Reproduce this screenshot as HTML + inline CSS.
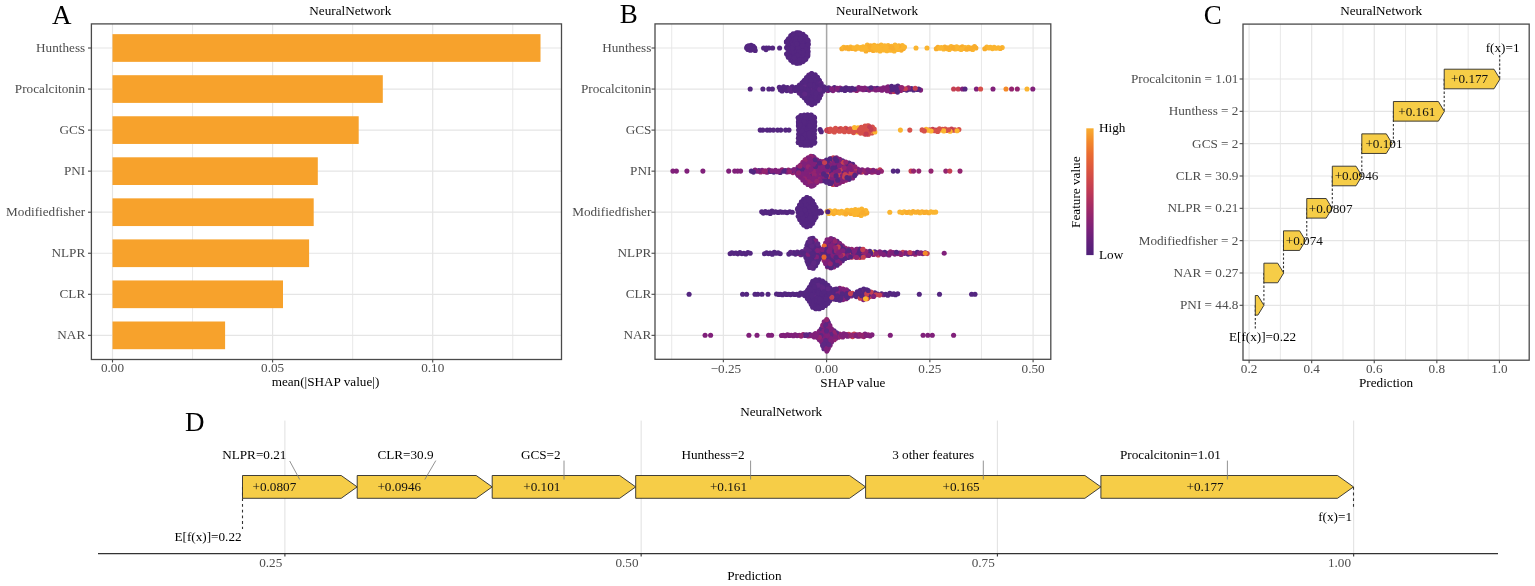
<!DOCTYPE html>
<html><head><meta charset="utf-8"><style>
html,body{margin:0;padding:0;background:#fff;width:1535px;height:586px;overflow:hidden}
svg{display:block}
text{font-family:'Liberation Serif','Times New Roman',serif}
</style></head><body>
<svg width="1535" height="586" viewBox="0 0 1535 586">
<rect width="1535" height="586" fill="#fff"/>
<line x1="192.55" y1="23.90" x2="192.55" y2="359.50" stroke="#E5E5E5" stroke-width="0.9" />
<line x1="352.65" y1="23.90" x2="352.65" y2="359.50" stroke="#E5E5E5" stroke-width="0.9" />
<line x1="512.75" y1="23.90" x2="512.75" y2="359.50" stroke="#E5E5E5" stroke-width="0.9" />
<line x1="112.50" y1="23.90" x2="112.50" y2="359.50" stroke="#E5E5E5" stroke-width="1.2" />
<line x1="272.60" y1="23.90" x2="272.60" y2="359.50" stroke="#E5E5E5" stroke-width="1.2" />
<line x1="432.70" y1="23.90" x2="432.70" y2="359.50" stroke="#E5E5E5" stroke-width="1.2" />
<line x1="91.40" y1="48.00" x2="561.50" y2="48.00" stroke="#E5E5E5" stroke-width="1.2" />
<line x1="91.40" y1="89.05" x2="561.50" y2="89.05" stroke="#E5E5E5" stroke-width="1.2" />
<line x1="91.40" y1="130.10" x2="561.50" y2="130.10" stroke="#E5E5E5" stroke-width="1.2" />
<line x1="91.40" y1="171.15" x2="561.50" y2="171.15" stroke="#E5E5E5" stroke-width="1.2" />
<line x1="91.40" y1="212.20" x2="561.50" y2="212.20" stroke="#E5E5E5" stroke-width="1.2" />
<line x1="91.40" y1="253.25" x2="561.50" y2="253.25" stroke="#E5E5E5" stroke-width="1.2" />
<line x1="91.40" y1="294.30" x2="561.50" y2="294.30" stroke="#E5E5E5" stroke-width="1.2" />
<line x1="91.40" y1="335.35" x2="561.50" y2="335.35" stroke="#E5E5E5" stroke-width="1.2" />
<rect x="112.5" y="34.15" width="428.00" height="27.7" fill="#F7A22C"/>
<rect x="112.5" y="75.20" width="270.30" height="27.7" fill="#F7A22C"/>
<rect x="112.5" y="116.25" width="246.20" height="27.7" fill="#F7A22C"/>
<rect x="112.5" y="157.30" width="205.30" height="27.7" fill="#F7A22C"/>
<rect x="112.5" y="198.35" width="201.20" height="27.7" fill="#F7A22C"/>
<rect x="112.5" y="239.40" width="196.60" height="27.7" fill="#F7A22C"/>
<rect x="112.5" y="280.45" width="170.50" height="27.7" fill="#F7A22C"/>
<rect x="112.5" y="321.50" width="112.60" height="27.7" fill="#F7A22C"/>
<rect x="91.4" y="23.9" width="470.1" height="335.6" fill="none" stroke="#4a4a4a" stroke-width="1.3"/>
<line x1="88.00" y1="48.00" x2="91.40" y2="48.00" stroke="#4a4a4a" stroke-width="1.1" />
<text x="85.20" y="52.00" font-size="13.2" fill="#4D4D4D" text-anchor="end" >Hunthess</text>
<line x1="88.00" y1="89.05" x2="91.40" y2="89.05" stroke="#4a4a4a" stroke-width="1.1" />
<text x="85.20" y="93.05" font-size="13.2" fill="#4D4D4D" text-anchor="end" >Procalcitonin</text>
<line x1="88.00" y1="130.10" x2="91.40" y2="130.10" stroke="#4a4a4a" stroke-width="1.1" />
<text x="85.20" y="134.10" font-size="13.2" fill="#4D4D4D" text-anchor="end" >GCS</text>
<line x1="88.00" y1="171.15" x2="91.40" y2="171.15" stroke="#4a4a4a" stroke-width="1.1" />
<text x="85.20" y="175.15" font-size="13.2" fill="#4D4D4D" text-anchor="end" >PNI</text>
<line x1="88.00" y1="212.20" x2="91.40" y2="212.20" stroke="#4a4a4a" stroke-width="1.1" />
<text x="85.20" y="216.20" font-size="13.2" fill="#4D4D4D" text-anchor="end" >Modifiedfisher</text>
<line x1="88.00" y1="253.25" x2="91.40" y2="253.25" stroke="#4a4a4a" stroke-width="1.1" />
<text x="85.20" y="257.25" font-size="13.2" fill="#4D4D4D" text-anchor="end" >NLPR</text>
<line x1="88.00" y1="294.30" x2="91.40" y2="294.30" stroke="#4a4a4a" stroke-width="1.1" />
<text x="85.20" y="298.30" font-size="13.2" fill="#4D4D4D" text-anchor="end" >CLR</text>
<line x1="88.00" y1="335.35" x2="91.40" y2="335.35" stroke="#4a4a4a" stroke-width="1.1" />
<text x="85.20" y="339.35" font-size="13.2" fill="#4D4D4D" text-anchor="end" >NAR</text>
<line x1="112.50" y1="359.50" x2="112.50" y2="362.50" stroke="#4a4a4a" stroke-width="1.1" />
<text x="112.50" y="372.00" font-size="13.2" fill="#4D4D4D" text-anchor="middle" >0.00</text>
<line x1="272.60" y1="359.50" x2="272.60" y2="362.50" stroke="#4a4a4a" stroke-width="1.1" />
<text x="272.60" y="372.00" font-size="13.2" fill="#4D4D4D" text-anchor="middle" >0.05</text>
<line x1="432.70" y1="359.50" x2="432.70" y2="362.50" stroke="#4a4a4a" stroke-width="1.1" />
<text x="432.70" y="372.00" font-size="13.2" fill="#4D4D4D" text-anchor="middle" >0.10</text>
<text x="325.50" y="386.00" font-size="13.2" fill="#000" text-anchor="middle" >mean(|SHAP value|)</text>
<text x="350.30" y="15.30" font-size="13.2" fill="#000" text-anchor="middle" >NeuralNetwork</text>
<text x="52.00" y="23.50" font-size="27" fill="#000" text-anchor="start" >A</text>
<line x1="671.73" y1="23.90" x2="671.73" y2="359.30" stroke="#E5E5E5" stroke-width="0.9" />
<line x1="774.98" y1="23.90" x2="774.98" y2="359.30" stroke="#E5E5E5" stroke-width="0.9" />
<line x1="878.23" y1="23.90" x2="878.23" y2="359.30" stroke="#E5E5E5" stroke-width="0.9" />
<line x1="981.48" y1="23.90" x2="981.48" y2="359.30" stroke="#E5E5E5" stroke-width="0.9" />
<line x1="723.35" y1="23.90" x2="723.35" y2="359.30" stroke="#E5E5E5" stroke-width="1.2" />
<line x1="826.60" y1="23.90" x2="826.60" y2="359.30" stroke="#E5E5E5" stroke-width="1.2" />
<line x1="929.85" y1="23.90" x2="929.85" y2="359.30" stroke="#E5E5E5" stroke-width="1.2" />
<line x1="1033.10" y1="23.90" x2="1033.10" y2="359.30" stroke="#E5E5E5" stroke-width="1.2" />
<line x1="655.00" y1="48.00" x2="1050.80" y2="48.00" stroke="#E5E5E5" stroke-width="1.2" />
<line x1="655.00" y1="89.05" x2="1050.80" y2="89.05" stroke="#E5E5E5" stroke-width="1.2" />
<line x1="655.00" y1="130.10" x2="1050.80" y2="130.10" stroke="#E5E5E5" stroke-width="1.2" />
<line x1="655.00" y1="171.15" x2="1050.80" y2="171.15" stroke="#E5E5E5" stroke-width="1.2" />
<line x1="655.00" y1="212.20" x2="1050.80" y2="212.20" stroke="#E5E5E5" stroke-width="1.2" />
<line x1="655.00" y1="253.25" x2="1050.80" y2="253.25" stroke="#E5E5E5" stroke-width="1.2" />
<line x1="655.00" y1="294.30" x2="1050.80" y2="294.30" stroke="#E5E5E5" stroke-width="1.2" />
<line x1="655.00" y1="335.35" x2="1050.80" y2="335.35" stroke="#E5E5E5" stroke-width="1.2" />
<line x1="826.60" y1="23.90" x2="826.60" y2="359.30" stroke="#A8A8A8" stroke-width="1.5" />
<circle cx="935.9" cy="130.0" r="2.55" fill="#c53f52"/>
<circle cx="819.4" cy="254.8" r="2.55" fill="#542680"/>
<circle cx="798.4" cy="142.4" r="2.55" fill="#542680"/>
<circle cx="882.0" cy="48.3" r="2.55" fill="#fbb530"/>
<circle cx="829.9" cy="288.1" r="2.55" fill="#542680"/>
<circle cx="911.2" cy="253.7" r="2.55" fill="#80207a"/>
<circle cx="832.5" cy="249.8" r="2.55" fill="#542680"/>
<circle cx="790.7" cy="60.1" r="2.55" fill="#542680"/>
<circle cx="891.9" cy="294.3" r="2.55" fill="#542680"/>
<circle cx="755.1" cy="170.1" r="2.55" fill="#80207a"/>
<circle cx="838.5" cy="258.1" r="2.55" fill="#542680"/>
<circle cx="824.1" cy="169.1" r="2.55" fill="#542680"/>
<circle cx="806.8" cy="140.1" r="2.55" fill="#542680"/>
<circle cx="864.9" cy="134.1" r="2.55" fill="#d6514b"/>
<circle cx="822.8" cy="294.9" r="2.55" fill="#542680"/>
<circle cx="848.7" cy="334.2" r="2.55" fill="#c53f52"/>
<circle cx="825.2" cy="290.6" r="2.55" fill="#542680"/>
<circle cx="799.7" cy="35.0" r="2.55" fill="#542680"/>
<circle cx="896.0" cy="48.0" r="2.55" fill="#f9ad2c"/>
<circle cx="820.4" cy="340.2" r="2.55" fill="#5e2783"/>
<circle cx="825.1" cy="251.4" r="2.55" fill="#c53f52"/>
<circle cx="862.9" cy="129.0" r="2.55" fill="#c53f52"/>
<circle cx="827.0" cy="327.1" r="2.55" fill="#5e2783"/>
<circle cx="838.6" cy="90.0" r="2.55" fill="#542680"/>
<circle cx="821.7" cy="332.1" r="2.55" fill="#80207a"/>
<circle cx="810.1" cy="299.5" r="2.55" fill="#542680"/>
<circle cx="822.1" cy="339.8" r="2.55" fill="#5e2783"/>
<circle cx="833.8" cy="244.8" r="2.55" fill="#542680"/>
<circle cx="752.3" cy="46.9" r="2.55" fill="#542680"/>
<circle cx="861.7" cy="209.1" r="2.55" fill="#fbb530"/>
<circle cx="778.1" cy="212.4" r="2.55" fill="#542680"/>
<circle cx="833.3" cy="173.1" r="2.55" fill="#c53f52"/>
<circle cx="932.7" cy="129.3" r="2.55" fill="#c53f52"/>
<circle cx="857.3" cy="291.7" r="2.55" fill="#542680"/>
<circle cx="799.8" cy="118.2" r="2.55" fill="#542680"/>
<circle cx="825.0" cy="322.0" r="2.55" fill="#80207a"/>
<circle cx="871.9" cy="133.0" r="2.55" fill="#d6514b"/>
<circle cx="803.4" cy="44.0" r="2.55" fill="#542680"/>
<circle cx="851.7" cy="249.2" r="2.55" fill="#93246f"/>
<circle cx="834.7" cy="183.5" r="2.55" fill="#c53f52"/>
<circle cx="811.7" cy="134.0" r="2.55" fill="#542680"/>
<circle cx="899.7" cy="48.8" r="2.55" fill="#fbb530"/>
<circle cx="804.1" cy="129.2" r="2.55" fill="#542680"/>
<circle cx="814.8" cy="142.2" r="2.55" fill="#542680"/>
<circle cx="861.8" cy="130.9" r="2.55" fill="#d6514b"/>
<circle cx="809.6" cy="141.0" r="2.55" fill="#542680"/>
<circle cx="882.0" cy="252.7" r="2.55" fill="#80207a"/>
<circle cx="836.0" cy="244.7" r="2.55" fill="#80207a"/>
<circle cx="825.6" cy="164.9" r="2.55" fill="#80207a"/>
<circle cx="814.3" cy="336.9" r="2.55" fill="#80207a"/>
<circle cx="819.3" cy="308.7" r="2.55" fill="#542680"/>
<circle cx="845.6" cy="128.3" r="2.55" fill="#d6514b"/>
<circle cx="839.9" cy="177.6" r="2.55" fill="#542680"/>
<circle cx="881.9" cy="90.3" r="2.55" fill="#80207a"/>
<circle cx="803.7" cy="213.4" r="2.55" fill="#542680"/>
<circle cx="825.6" cy="288.0" r="2.55" fill="#542680"/>
<circle cx="830.6" cy="267.7" r="2.55" fill="#80207a"/>
<circle cx="810.9" cy="137.9" r="2.55" fill="#542680"/>
<circle cx="822.7" cy="281.8" r="2.55" fill="#542680"/>
<circle cx="804.6" cy="252.5" r="2.55" fill="#542680"/>
<circle cx="807.6" cy="56.3" r="2.55" fill="#542680"/>
<circle cx="866.7" cy="254.5" r="2.55" fill="#542680"/>
<circle cx="807.9" cy="43.6" r="2.55" fill="#542680"/>
<circle cx="867.9" cy="130.2" r="2.55" fill="#d6514b"/>
<circle cx="857.6" cy="169.0" r="2.55" fill="#80207a"/>
<circle cx="808.0" cy="87.8" r="2.55" fill="#542680"/>
<circle cx="799.6" cy="85.6" r="2.55" fill="#542680"/>
<circle cx="790.7" cy="35.9" r="2.55" fill="#542680"/>
<circle cx="801.9" cy="123.6" r="2.55" fill="#542680"/>
<circle cx="831.5" cy="342.0" r="2.55" fill="#5e2783"/>
<circle cx="830.0" cy="180.1" r="2.55" fill="#542680"/>
<circle cx="942.3" cy="129.4" r="2.55" fill="#d6514b"/>
<circle cx="825.5" cy="301.8" r="2.55" fill="#542680"/>
<circle cx="841.4" cy="290.8" r="2.55" fill="#542680"/>
<circle cx="828.2" cy="175.3" r="2.55" fill="#542680"/>
<circle cx="855.5" cy="49.1" r="2.55" fill="#f9ad2c"/>
<circle cx="833.0" cy="241.0" r="2.55" fill="#93246f"/>
<circle cx="849.5" cy="211.1" r="2.55" fill="#f9ad2c"/>
<circle cx="958.9" cy="129.6" r="2.55" fill="#d6514b"/>
<circle cx="833.6" cy="166.4" r="2.55" fill="#80207a"/>
<circle cx="820.5" cy="253.1" r="2.55" fill="#80207a"/>
<circle cx="866.0" cy="296.3" r="2.55" fill="#542680"/>
<circle cx="805.3" cy="54.4" r="2.55" fill="#542680"/>
<circle cx="903.5" cy="89.5" r="2.55" fill="#542680"/>
<circle cx="798.4" cy="121.9" r="2.55" fill="#542680"/>
<circle cx="820.9" cy="94.8" r="2.55" fill="#5e2783"/>
<circle cx="827.1" cy="285.7" r="2.55" fill="#542680"/>
<circle cx="806.1" cy="132.5" r="2.55" fill="#542680"/>
<circle cx="872.5" cy="293.9" r="2.55" fill="#542680"/>
<circle cx="834.2" cy="176.6" r="2.55" fill="#80207a"/>
<circle cx="800.7" cy="165.0" r="2.55" fill="#80207a"/>
<circle cx="790.5" cy="44.3" r="2.55" fill="#542680"/>
<circle cx="892.4" cy="49.4" r="2.55" fill="#fbb530"/>
<circle cx="848.7" cy="212.3" r="2.55" fill="#fbb530"/>
<circle cx="806.9" cy="84.8" r="2.55" fill="#5e2783"/>
<circle cx="821.0" cy="297.1" r="2.55" fill="#542680"/>
<circle cx="833.8" cy="239.6" r="2.55" fill="#80207a"/>
<circle cx="802.2" cy="251.5" r="2.55" fill="#5e2783"/>
<circle cx="832.3" cy="161.7" r="2.55" fill="#80207a"/>
<circle cx="811.7" cy="174.7" r="2.55" fill="#80207a"/>
<circle cx="837.3" cy="167.4" r="2.55" fill="#80207a"/>
<circle cx="780.2" cy="172.5" r="2.55" fill="#542680"/>
<circle cx="808.2" cy="216.1" r="2.55" fill="#542680"/>
<circle cx="809.8" cy="122.1" r="2.55" fill="#542680"/>
<circle cx="814.2" cy="184.8" r="2.55" fill="#80207a"/>
<circle cx="824.5" cy="334.0" r="2.55" fill="#5e2783"/>
<circle cx="782.5" cy="294.7" r="2.55" fill="#542680"/>
<circle cx="813.0" cy="249.7" r="2.55" fill="#542680"/>
<circle cx="870.4" cy="131.2" r="2.55" fill="#fbb530"/>
<circle cx="767.0" cy="172.3" r="2.55" fill="#80207a"/>
<circle cx="803.0" cy="34.4" r="2.55" fill="#542680"/>
<circle cx="860.6" cy="336.0" r="2.55" fill="#93246f"/>
<circle cx="774.3" cy="252.3" r="2.55" fill="#542680"/>
<circle cx="798.5" cy="123.9" r="2.55" fill="#542680"/>
<circle cx="811.3" cy="88.6" r="2.55" fill="#542680"/>
<circle cx="852.6" cy="336.6" r="2.55" fill="#c53f52"/>
<circle cx="846.8" cy="253.7" r="2.55" fill="#93246f"/>
<circle cx="853.5" cy="256.2" r="2.55" fill="#80207a"/>
<circle cx="886.2" cy="254.1" r="2.55" fill="#542680"/>
<circle cx="819.2" cy="339.4" r="2.55" fill="#80207a"/>
<circle cx="816.0" cy="217.1" r="2.55" fill="#542680"/>
<circle cx="815.2" cy="76.2" r="2.55" fill="#542680"/>
<circle cx="827.5" cy="349.5" r="2.55" fill="#80207a"/>
<circle cx="811.8" cy="203.8" r="2.55" fill="#542680"/>
<circle cx="862.5" cy="298.2" r="2.55" fill="#e8642e"/>
<circle cx="881.2" cy="45.1" r="2.55" fill="#fbb530"/>
<circle cx="802.8" cy="142.2" r="2.55" fill="#542680"/>
<circle cx="826.4" cy="323.1" r="2.55" fill="#5e2783"/>
<circle cx="856.6" cy="90.5" r="2.55" fill="#93246f"/>
<circle cx="799.7" cy="140.2" r="2.55" fill="#542680"/>
<circle cx="838.8" cy="159.6" r="2.55" fill="#80207a"/>
<circle cx="800.3" cy="57.6" r="2.55" fill="#542680"/>
<circle cx="803.4" cy="223.7" r="2.55" fill="#542680"/>
<circle cx="788.4" cy="170.0" r="2.55" fill="#93246f"/>
<circle cx="940.7" cy="130.1" r="2.55" fill="#fbb530"/>
<circle cx="755.2" cy="50.4" r="2.55" fill="#542680"/>
<circle cx="836.8" cy="130.2" r="2.55" fill="#d6514b"/>
<circle cx="832.4" cy="242.5" r="2.55" fill="#80207a"/>
<circle cx="827.8" cy="290.8" r="2.55" fill="#542680"/>
<circle cx="975.9" cy="48.0" r="2.55" fill="#f9ad2c"/>
<circle cx="791.8" cy="35.2" r="2.55" fill="#542680"/>
<circle cx="807.6" cy="114.9" r="2.55" fill="#542680"/>
<circle cx="752.5" cy="49.8" r="2.55" fill="#542680"/>
<circle cx="841.0" cy="162.0" r="2.55" fill="#80207a"/>
<circle cx="798.3" cy="142.4" r="2.55" fill="#542680"/>
<circle cx="811.0" cy="96.1" r="2.55" fill="#542680"/>
<circle cx="810.8" cy="200.1" r="2.55" fill="#542680"/>
<circle cx="822.5" cy="306.9" r="2.55" fill="#542680"/>
<circle cx="877.0" cy="252.9" r="2.55" fill="#80207a"/>
<circle cx="859.5" cy="255.4" r="2.55" fill="#542680"/>
<circle cx="806.2" cy="97.9" r="2.55" fill="#542680"/>
<circle cx="831.2" cy="212.8" r="2.55" fill="#fbb530"/>
<circle cx="855.8" cy="253.2" r="2.55" fill="#80207a"/>
<circle cx="776.5" cy="294.0" r="2.55" fill="#542680"/>
<circle cx="802.4" cy="205.3" r="2.55" fill="#542680"/>
<circle cx="823.6" cy="298.1" r="2.55" fill="#542680"/>
<circle cx="811.7" cy="238.6" r="2.55" fill="#542680"/>
<circle cx="841.6" cy="259.7" r="2.55" fill="#c53f52"/>
<circle cx="802.8" cy="162.4" r="2.55" fill="#93246f"/>
<circle cx="789.2" cy="46.0" r="2.55" fill="#542680"/>
<circle cx="803.6" cy="57.3" r="2.55" fill="#542680"/>
<circle cx="801.0" cy="254.8" r="2.55" fill="#5e2783"/>
<circle cx="821.0" cy="290.2" r="2.55" fill="#542680"/>
<circle cx="889.7" cy="88.5" r="2.55" fill="#93246f"/>
<circle cx="871.7" cy="295.4" r="2.55" fill="#542680"/>
<circle cx="816.1" cy="245.3" r="2.55" fill="#542680"/>
<circle cx="805.9" cy="159.7" r="2.55" fill="#80207a"/>
<circle cx="787.5" cy="87.5" r="2.55" fill="#542680"/>
<circle cx="849.7" cy="294.9" r="2.55" fill="#542680"/>
<circle cx="811.3" cy="115.1" r="2.55" fill="#542680"/>
<circle cx="897.8" cy="86.0" r="2.55" fill="#542680"/>
<circle cx="794.6" cy="46.6" r="2.55" fill="#542680"/>
<circle cx="813.3" cy="292.2" r="2.55" fill="#542680"/>
<circle cx="808.1" cy="157.9" r="2.55" fill="#80207a"/>
<circle cx="832.4" cy="257.0" r="2.55" fill="#542680"/>
<circle cx="900.8" cy="90.4" r="2.55" fill="#93246f"/>
<circle cx="958.2" cy="48.6" r="2.55" fill="#fbb530"/>
<circle cx="786.7" cy="294.4" r="2.55" fill="#542680"/>
<circle cx="812.0" cy="89.3" r="2.55" fill="#5e2783"/>
<circle cx="810.2" cy="129.6" r="2.55" fill="#542680"/>
<circle cx="850.2" cy="175.0" r="2.55" fill="#93246f"/>
<circle cx="959.7" cy="47.7" r="2.55" fill="#f9ad2c"/>
<circle cx="793.9" cy="252.6" r="2.55" fill="#542680"/>
<circle cx="807.3" cy="143.9" r="2.55" fill="#542680"/>
<circle cx="840.1" cy="88.0" r="2.55" fill="#80207a"/>
<circle cx="829.6" cy="242.4" r="2.55" fill="#80207a"/>
<circle cx="809.4" cy="86.8" r="2.55" fill="#542680"/>
<circle cx="887.4" cy="253.2" r="2.55" fill="#80207a"/>
<circle cx="843.4" cy="257.7" r="2.55" fill="#80207a"/>
<circle cx="833.1" cy="130.0" r="2.55" fill="#d6514b"/>
<circle cx="851.2" cy="131.1" r="2.55" fill="#d6514b"/>
<circle cx="798.7" cy="253.8" r="2.55" fill="#80207a"/>
<circle cx="846.7" cy="173.3" r="2.55" fill="#93246f"/>
<circle cx="804.2" cy="168.1" r="2.55" fill="#80207a"/>
<circle cx="922.0" cy="211.7" r="2.55" fill="#f9ad2c"/>
<circle cx="920.6" cy="90.1" r="2.55" fill="#80207a"/>
<circle cx="822.5" cy="307.5" r="2.55" fill="#542680"/>
<circle cx="937.7" cy="131.5" r="2.55" fill="#d6514b"/>
<circle cx="803.8" cy="81.2" r="2.55" fill="#542680"/>
<circle cx="881.6" cy="293.8" r="2.55" fill="#542680"/>
<circle cx="800.8" cy="171.6" r="2.55" fill="#80207a"/>
<circle cx="835.7" cy="260.5" r="2.55" fill="#542680"/>
<circle cx="799.0" cy="92.1" r="2.55" fill="#542680"/>
<circle cx="852.1" cy="165.1" r="2.55" fill="#80207a"/>
<circle cx="794.7" cy="294.5" r="2.55" fill="#542680"/>
<circle cx="823.2" cy="301.4" r="2.55" fill="#542680"/>
<circle cx="827.1" cy="258.8" r="2.55" fill="#542680"/>
<circle cx="806.6" cy="295.2" r="2.55" fill="#542680"/>
<circle cx="801.0" cy="61.1" r="2.55" fill="#542680"/>
<circle cx="803.2" cy="334.5" r="2.55" fill="#93246f"/>
<circle cx="808.8" cy="97.4" r="2.55" fill="#542680"/>
<circle cx="873.4" cy="254.4" r="2.55" fill="#93246f"/>
<circle cx="864.3" cy="128.0" r="2.55" fill="#d6514b"/>
<circle cx="798.8" cy="36.8" r="2.55" fill="#542680"/>
<circle cx="825.8" cy="255.1" r="2.55" fill="#c53f52"/>
<circle cx="834.7" cy="169.8" r="2.55" fill="#80207a"/>
<circle cx="820.1" cy="129.5" r="2.55" fill="#542680"/>
<circle cx="953.5" cy="130.3" r="2.55" fill="#d6514b"/>
<circle cx="815.7" cy="240.8" r="2.55" fill="#80207a"/>
<circle cx="795.5" cy="171.5" r="2.55" fill="#80207a"/>
<circle cx="829.2" cy="173.9" r="2.55" fill="#93246f"/>
<circle cx="800.1" cy="214.5" r="2.55" fill="#542680"/>
<circle cx="830.8" cy="253.0" r="2.55" fill="#93246f"/>
<circle cx="842.9" cy="181.4" r="2.55" fill="#93246f"/>
<circle cx="807.1" cy="136.3" r="2.55" fill="#542680"/>
<circle cx="888.1" cy="45.5" r="2.55" fill="#fbb530"/>
<circle cx="806.7" cy="178.0" r="2.55" fill="#80207a"/>
<circle cx="796.9" cy="294.3" r="2.55" fill="#542680"/>
<circle cx="771.9" cy="211.0" r="2.55" fill="#542680"/>
<circle cx="812.2" cy="117.8" r="2.55" fill="#542680"/>
<circle cx="806.8" cy="121.1" r="2.55" fill="#542680"/>
<circle cx="888.0" cy="86.8" r="2.55" fill="#80207a"/>
<circle cx="806.5" cy="39.7" r="2.55" fill="#542680"/>
<circle cx="833.0" cy="184.4" r="2.55" fill="#c53f52"/>
<circle cx="866.0" cy="50.9" r="2.55" fill="#f9ad2c"/>
<circle cx="812.9" cy="156.6" r="2.55" fill="#542680"/>
<circle cx="799.4" cy="215.8" r="2.55" fill="#542680"/>
<circle cx="815.2" cy="254.3" r="2.55" fill="#542680"/>
<circle cx="807.1" cy="197.6" r="2.55" fill="#542680"/>
<circle cx="812.0" cy="81.5" r="2.55" fill="#542680"/>
<circle cx="807.5" cy="116.3" r="2.55" fill="#542680"/>
<circle cx="835.9" cy="338.3" r="2.55" fill="#80207a"/>
<circle cx="824.2" cy="321.9" r="2.55" fill="#80207a"/>
<circle cx="859.9" cy="257.4" r="2.55" fill="#c53f52"/>
<circle cx="824.4" cy="284.3" r="2.55" fill="#542680"/>
<circle cx="793.7" cy="50.2" r="2.55" fill="#542680"/>
<circle cx="815.1" cy="101.6" r="2.55" fill="#542680"/>
<circle cx="818.5" cy="174.5" r="2.55" fill="#80207a"/>
<circle cx="795.0" cy="34.5" r="2.55" fill="#542680"/>
<circle cx="812.2" cy="132.1" r="2.55" fill="#542680"/>
<circle cx="847.9" cy="175.3" r="2.55" fill="#c53f52"/>
<circle cx="815.4" cy="172.8" r="2.55" fill="#80207a"/>
<circle cx="807.5" cy="168.5" r="2.55" fill="#80207a"/>
<circle cx="939.4" cy="128.7" r="2.55" fill="#d6514b"/>
<circle cx="805.7" cy="86.7" r="2.55" fill="#542680"/>
<circle cx="825.3" cy="329.3" r="2.55" fill="#5e2783"/>
<circle cx="819.3" cy="331.3" r="2.55" fill="#80207a"/>
<circle cx="791.7" cy="60.3" r="2.55" fill="#542680"/>
<circle cx="908.1" cy="254.1" r="2.55" fill="#542680"/>
<circle cx="836.8" cy="263.2" r="2.55" fill="#80207a"/>
<circle cx="799.2" cy="44.4" r="2.55" fill="#542680"/>
<circle cx="811.6" cy="159.5" r="2.55" fill="#93246f"/>
<circle cx="809.0" cy="118.3" r="2.55" fill="#542680"/>
<circle cx="863.4" cy="289.8" r="2.55" fill="#542680"/>
<circle cx="833.6" cy="179.9" r="2.55" fill="#542680"/>
<circle cx="818.4" cy="213.2" r="2.55" fill="#542680"/>
<circle cx="863.7" cy="211.0" r="2.55" fill="#fbb530"/>
<circle cx="830.5" cy="260.2" r="2.55" fill="#542680"/>
<circle cx="828.6" cy="326.1" r="2.55" fill="#80207a"/>
<circle cx="825.1" cy="172.9" r="2.55" fill="#80207a"/>
<circle cx="813.6" cy="83.6" r="2.55" fill="#542680"/>
<circle cx="799.3" cy="335.3" r="2.55" fill="#80207a"/>
<circle cx="859.9" cy="296.4" r="2.55" fill="#c53f52"/>
<circle cx="869.5" cy="49.6" r="2.55" fill="#f9ad2c"/>
<circle cx="818.3" cy="300.1" r="2.55" fill="#542680"/>
<circle cx="868.2" cy="128.1" r="2.55" fill="#fbb530"/>
<circle cx="852.4" cy="293.2" r="2.55" fill="#c53f52"/>
<circle cx="810.5" cy="115.3" r="2.55" fill="#542680"/>
<circle cx="819.2" cy="279.9" r="2.55" fill="#542680"/>
<circle cx="782.1" cy="169.8" r="2.55" fill="#93246f"/>
<circle cx="854.2" cy="334.1" r="2.55" fill="#c53f52"/>
<circle cx="807.7" cy="53.3" r="2.55" fill="#542680"/>
<circle cx="853.6" cy="89.8" r="2.55" fill="#80207a"/>
<circle cx="793.1" cy="89.2" r="2.55" fill="#542680"/>
<circle cx="800.5" cy="90.0" r="2.55" fill="#542680"/>
<circle cx="797.1" cy="335.6" r="2.55" fill="#80207a"/>
<circle cx="792.8" cy="38.0" r="2.55" fill="#542680"/>
<circle cx="814.0" cy="160.9" r="2.55" fill="#80207a"/>
<circle cx="851.8" cy="176.5" r="2.55" fill="#542680"/>
<circle cx="789.9" cy="38.7" r="2.55" fill="#542680"/>
<circle cx="844.8" cy="292.2" r="2.55" fill="#542680"/>
<circle cx="846.6" cy="130.4" r="2.55" fill="#c53f52"/>
<circle cx="951.1" cy="46.6" r="2.55" fill="#fbb530"/>
<circle cx="889.0" cy="48.7" r="2.55" fill="#fbb530"/>
<circle cx="792.9" cy="172.6" r="2.55" fill="#93246f"/>
<circle cx="809.3" cy="79.7" r="2.55" fill="#542680"/>
<circle cx="835.0" cy="289.4" r="2.55" fill="#80207a"/>
<circle cx="805.4" cy="92.0" r="2.55" fill="#542680"/>
<circle cx="799.5" cy="205.0" r="2.55" fill="#542680"/>
<circle cx="803.9" cy="136.7" r="2.55" fill="#542680"/>
<circle cx="786.4" cy="41.9" r="2.55" fill="#542680"/>
<circle cx="831.9" cy="330.0" r="2.55" fill="#93246f"/>
<circle cx="820.7" cy="165.8" r="2.55" fill="#80207a"/>
<circle cx="828.7" cy="297.3" r="2.55" fill="#542680"/>
<circle cx="811.2" cy="293.4" r="2.55" fill="#542680"/>
<circle cx="869.4" cy="292.7" r="2.55" fill="#c53f52"/>
<circle cx="818.6" cy="169.3" r="2.55" fill="#80207a"/>
<circle cx="838.6" cy="183.0" r="2.55" fill="#93246f"/>
<circle cx="801.9" cy="85.5" r="2.55" fill="#542680"/>
<circle cx="814.6" cy="122.1" r="2.55" fill="#542680"/>
<circle cx="820.2" cy="211.1" r="2.55" fill="#542680"/>
<circle cx="851.8" cy="257.3" r="2.55" fill="#c53f52"/>
<circle cx="799.3" cy="93.1" r="2.55" fill="#5e2783"/>
<circle cx="868.0" cy="48.1" r="2.55" fill="#fbb530"/>
<circle cx="798.2" cy="212.3" r="2.55" fill="#542680"/>
<circle cx="836.7" cy="212.5" r="2.55" fill="#fbb530"/>
<circle cx="904.2" cy="253.5" r="2.55" fill="#542680"/>
<circle cx="841.5" cy="173.1" r="2.55" fill="#542680"/>
<circle cx="846.0" cy="249.4" r="2.55" fill="#c53f52"/>
<circle cx="813.3" cy="268.2" r="2.55" fill="#542680"/>
<circle cx="865.1" cy="255.5" r="2.55" fill="#80207a"/>
<circle cx="986.8" cy="47.0" r="2.55" fill="#fbb530"/>
<circle cx="807.0" cy="261.0" r="2.55" fill="#542680"/>
<circle cx="784.7" cy="89.4" r="2.55" fill="#542680"/>
<circle cx="890.6" cy="50.2" r="2.55" fill="#fbb530"/>
<circle cx="788.4" cy="53.3" r="2.55" fill="#542680"/>
<circle cx="837.1" cy="241.2" r="2.55" fill="#542680"/>
<circle cx="830.4" cy="295.6" r="2.55" fill="#542680"/>
<circle cx="804.4" cy="80.3" r="2.55" fill="#542680"/>
<circle cx="851.2" cy="296.0" r="2.55" fill="#80207a"/>
<circle cx="821.4" cy="255.7" r="2.55" fill="#80207a"/>
<circle cx="822.5" cy="328.4" r="2.55" fill="#5e2783"/>
<circle cx="825.2" cy="283.1" r="2.55" fill="#542680"/>
<circle cx="846.0" cy="87.9" r="2.55" fill="#542680"/>
<circle cx="863.1" cy="46.8" r="2.55" fill="#fbb530"/>
<circle cx="806.5" cy="56.1" r="2.55" fill="#542680"/>
<circle cx="883.5" cy="294.8" r="2.55" fill="#80207a"/>
<circle cx="847.7" cy="166.8" r="2.55" fill="#80207a"/>
<circle cx="832.1" cy="211.9" r="2.55" fill="#fbb530"/>
<circle cx="805.6" cy="182.5" r="2.55" fill="#80207a"/>
<circle cx="833.7" cy="248.2" r="2.55" fill="#542680"/>
<circle cx="848.7" cy="179.2" r="2.55" fill="#93246f"/>
<circle cx="823.0" cy="344.0" r="2.55" fill="#80207a"/>
<circle cx="839.3" cy="243.5" r="2.55" fill="#542680"/>
<circle cx="805.8" cy="51.3" r="2.55" fill="#542680"/>
<circle cx="808.8" cy="75.1" r="2.55" fill="#5e2783"/>
<circle cx="810.5" cy="249.1" r="2.55" fill="#542680"/>
<circle cx="799.0" cy="136.5" r="2.55" fill="#542680"/>
<circle cx="871.4" cy="48.9" r="2.55" fill="#f9ad2c"/>
<circle cx="873.2" cy="130.6" r="2.55" fill="#d6514b"/>
<circle cx="815.4" cy="280.2" r="2.55" fill="#542680"/>
<circle cx="831.7" cy="165.0" r="2.55" fill="#542680"/>
<circle cx="834.1" cy="330.9" r="2.55" fill="#5e2783"/>
<circle cx="874.2" cy="45.3" r="2.55" fill="#fbb530"/>
<circle cx="808.4" cy="120.2" r="2.55" fill="#542680"/>
<circle cx="804.2" cy="85.0" r="2.55" fill="#5e2783"/>
<circle cx="828.7" cy="87.9" r="2.55" fill="#542680"/>
<circle cx="747.2" cy="46.6" r="2.55" fill="#542680"/>
<circle cx="747.9" cy="49.4" r="2.55" fill="#542680"/>
<circle cx="861.3" cy="252.3" r="2.55" fill="#93246f"/>
<circle cx="842.9" cy="289.0" r="2.55" fill="#c53f52"/>
<circle cx="804.9" cy="176.3" r="2.55" fill="#80207a"/>
<circle cx="808.2" cy="336.0" r="2.55" fill="#93246f"/>
<circle cx="847.3" cy="47.5" r="2.55" fill="#f9ad2c"/>
<circle cx="819.1" cy="295.4" r="2.55" fill="#542680"/>
<circle cx="806.3" cy="90.9" r="2.55" fill="#542680"/>
<circle cx="764.5" cy="253.8" r="2.55" fill="#542680"/>
<circle cx="831.0" cy="158.8" r="2.55" fill="#80207a"/>
<circle cx="946.7" cy="48.6" r="2.55" fill="#fbb530"/>
<circle cx="823.6" cy="337.3" r="2.55" fill="#93246f"/>
<circle cx="819.8" cy="284.8" r="2.55" fill="#542680"/>
<circle cx="812.4" cy="221.9" r="2.55" fill="#542680"/>
<circle cx="857.4" cy="249.3" r="2.55" fill="#80207a"/>
<circle cx="808.6" cy="289.4" r="2.55" fill="#542680"/>
<circle cx="811.2" cy="304.3" r="2.55" fill="#542680"/>
<circle cx="866.3" cy="89.4" r="2.55" fill="#542680"/>
<circle cx="832.1" cy="292.2" r="2.55" fill="#c53f52"/>
<circle cx="994.1" cy="47.3" r="2.55" fill="#fbb530"/>
<circle cx="834.4" cy="131.9" r="2.55" fill="#d6514b"/>
<circle cx="845.2" cy="335.4" r="2.55" fill="#c53f52"/>
<circle cx="804.4" cy="203.5" r="2.55" fill="#542680"/>
<circle cx="805.1" cy="138.1" r="2.55" fill="#542680"/>
<circle cx="809.9" cy="198.6" r="2.55" fill="#542680"/>
<circle cx="837.1" cy="336.0" r="2.55" fill="#80207a"/>
<circle cx="814.1" cy="220.1" r="2.55" fill="#542680"/>
<circle cx="798.3" cy="88.5" r="2.55" fill="#542680"/>
<circle cx="795.1" cy="49.4" r="2.55" fill="#542680"/>
<circle cx="804.5" cy="36.2" r="2.55" fill="#542680"/>
<circle cx="902.3" cy="212.6" r="2.55" fill="#f9ad2c"/>
<circle cx="825.4" cy="178.1" r="2.55" fill="#542680"/>
<circle cx="810.1" cy="172.7" r="2.55" fill="#80207a"/>
<circle cx="832.9" cy="298.7" r="2.55" fill="#c53f52"/>
<circle cx="821.3" cy="90.6" r="2.55" fill="#5e2783"/>
<circle cx="803.3" cy="125.4" r="2.55" fill="#542680"/>
<circle cx="796.6" cy="60.9" r="2.55" fill="#542680"/>
<circle cx="835.8" cy="291.8" r="2.55" fill="#542680"/>
<circle cx="835.4" cy="294.3" r="2.55" fill="#542680"/>
<circle cx="830.7" cy="293.1" r="2.55" fill="#542680"/>
<circle cx="934.6" cy="130.7" r="2.55" fill="#d6514b"/>
<circle cx="870.5" cy="170.6" r="2.55" fill="#c53f52"/>
<circle cx="815.7" cy="265.7" r="2.55" fill="#542680"/>
<circle cx="801.4" cy="49.1" r="2.55" fill="#542680"/>
<circle cx="822.0" cy="257.3" r="2.55" fill="#542680"/>
<circle cx="864.0" cy="251.9" r="2.55" fill="#80207a"/>
<circle cx="813.1" cy="100.8" r="2.55" fill="#542680"/>
<circle cx="799.9" cy="63.0" r="2.55" fill="#542680"/>
<circle cx="803.9" cy="173.2" r="2.55" fill="#80207a"/>
<circle cx="814.3" cy="94.7" r="2.55" fill="#5e2783"/>
<circle cx="788.3" cy="43.9" r="2.55" fill="#542680"/>
<circle cx="921.0" cy="252.9" r="2.55" fill="#93246f"/>
<circle cx="841.6" cy="211.4" r="2.55" fill="#fbb530"/>
<circle cx="834.2" cy="299.0" r="2.55" fill="#542680"/>
<circle cx="853.8" cy="211.6" r="2.55" fill="#fbb530"/>
<circle cx="805.5" cy="215.2" r="2.55" fill="#542680"/>
<circle cx="842.7" cy="337.0" r="2.55" fill="#80207a"/>
<circle cx="797.5" cy="209.3" r="2.55" fill="#542680"/>
<circle cx="812.7" cy="281.3" r="2.55" fill="#542680"/>
<circle cx="792.4" cy="55.2" r="2.55" fill="#542680"/>
<circle cx="837.8" cy="334.5" r="2.55" fill="#93246f"/>
<circle cx="797.2" cy="59.0" r="2.55" fill="#542680"/>
<circle cx="972.7" cy="49.4" r="2.55" fill="#fbb530"/>
<circle cx="808.7" cy="83.4" r="2.55" fill="#542680"/>
<circle cx="812.5" cy="77.5" r="2.55" fill="#5e2783"/>
<circle cx="813.0" cy="214.3" r="2.55" fill="#542680"/>
<circle cx="751.3" cy="171.1" r="2.55" fill="#542680"/>
<circle cx="829.2" cy="161.8" r="2.55" fill="#c53f52"/>
<circle cx="880.2" cy="88.9" r="2.55" fill="#80207a"/>
<circle cx="869.0" cy="132.3" r="2.55" fill="#d6514b"/>
<circle cx="827.7" cy="178.1" r="2.55" fill="#542680"/>
<circle cx="858.6" cy="210.0" r="2.55" fill="#fbb530"/>
<circle cx="835.2" cy="254.2" r="2.55" fill="#542680"/>
<circle cx="873.2" cy="50.5" r="2.55" fill="#f9ad2c"/>
<circle cx="816.5" cy="251.3" r="2.55" fill="#542680"/>
<circle cx="861.0" cy="172.3" r="2.55" fill="#93246f"/>
<circle cx="807.5" cy="261.8" r="2.55" fill="#542680"/>
<circle cx="815.4" cy="308.2" r="2.55" fill="#542680"/>
<circle cx="814.5" cy="138.2" r="2.55" fill="#542680"/>
<circle cx="890.8" cy="91.8" r="2.55" fill="#80207a"/>
<circle cx="818.5" cy="93.7" r="2.55" fill="#542680"/>
<circle cx="856.8" cy="132.0" r="2.55" fill="#fbb530"/>
<circle cx="824.5" cy="179.1" r="2.55" fill="#80207a"/>
<circle cx="891.6" cy="86.4" r="2.55" fill="#542680"/>
<circle cx="926.1" cy="129.2" r="2.55" fill="#fbb530"/>
<circle cx="860.5" cy="133.1" r="2.55" fill="#d6514b"/>
<circle cx="860.4" cy="47.6" r="2.55" fill="#fbb530"/>
<circle cx="918.6" cy="89.0" r="2.55" fill="#542680"/>
<circle cx="837.0" cy="243.6" r="2.55" fill="#542680"/>
<circle cx="798.7" cy="55.9" r="2.55" fill="#542680"/>
<circle cx="833.4" cy="294.2" r="2.55" fill="#542680"/>
<circle cx="819.8" cy="173.1" r="2.55" fill="#80207a"/>
<circle cx="823.5" cy="180.7" r="2.55" fill="#542680"/>
<circle cx="831.3" cy="238.8" r="2.55" fill="#542680"/>
<circle cx="778.9" cy="171.1" r="2.55" fill="#80207a"/>
<circle cx="766.6" cy="252.7" r="2.55" fill="#542680"/>
<circle cx="815.4" cy="90.1" r="2.55" fill="#542680"/>
<circle cx="788.3" cy="57.3" r="2.55" fill="#542680"/>
<circle cx="843.1" cy="180.5" r="2.55" fill="#80207a"/>
<circle cx="829.9" cy="325.5" r="2.55" fill="#80207a"/>
<circle cx="841.6" cy="167.7" r="2.55" fill="#80207a"/>
<circle cx="845.5" cy="297.0" r="2.55" fill="#542680"/>
<circle cx="963.9" cy="48.4" r="2.55" fill="#fbb530"/>
<circle cx="859.9" cy="89.1" r="2.55" fill="#80207a"/>
<circle cx="812.3" cy="125.0" r="2.55" fill="#542680"/>
<circle cx="888.9" cy="90.1" r="2.55" fill="#80207a"/>
<circle cx="805.1" cy="42.6" r="2.55" fill="#542680"/>
<circle cx="773.8" cy="172.1" r="2.55" fill="#542680"/>
<circle cx="815.5" cy="83.2" r="2.55" fill="#542680"/>
<circle cx="846.1" cy="291.2" r="2.55" fill="#80207a"/>
<circle cx="816.8" cy="99.8" r="2.55" fill="#542680"/>
<circle cx="821.0" cy="175.4" r="2.55" fill="#93246f"/>
<circle cx="863.7" cy="289.0" r="2.55" fill="#542680"/>
<circle cx="809.4" cy="221.1" r="2.55" fill="#542680"/>
<circle cx="818.5" cy="164.1" r="2.55" fill="#93246f"/>
<circle cx="797.3" cy="252.0" r="2.55" fill="#5e2783"/>
<circle cx="849.4" cy="163.2" r="2.55" fill="#80207a"/>
<circle cx="852.8" cy="172.0" r="2.55" fill="#542680"/>
<circle cx="822.3" cy="162.4" r="2.55" fill="#80207a"/>
<circle cx="787.0" cy="53.7" r="2.55" fill="#542680"/>
<circle cx="840.1" cy="258.4" r="2.55" fill="#542680"/>
<circle cx="917.2" cy="89.5" r="2.55" fill="#542680"/>
<circle cx="801.4" cy="201.9" r="2.55" fill="#542680"/>
<circle cx="825.4" cy="305.5" r="2.55" fill="#542680"/>
<circle cx="801.3" cy="93.0" r="2.55" fill="#5e2783"/>
<circle cx="933.3" cy="212.3" r="2.55" fill="#fbb530"/>
<circle cx="805.0" cy="335.4" r="2.55" fill="#5e2783"/>
<circle cx="863.0" cy="249.2" r="2.55" fill="#c53f52"/>
<circle cx="806.5" cy="100.6" r="2.55" fill="#542680"/>
<circle cx="900.0" cy="87.7" r="2.55" fill="#80207a"/>
<circle cx="832.8" cy="333.2" r="2.55" fill="#5e2783"/>
<circle cx="733.9" cy="253.4" r="2.55" fill="#542680"/>
<circle cx="763.3" cy="213.1" r="2.55" fill="#542680"/>
<circle cx="816.9" cy="160.5" r="2.55" fill="#80207a"/>
<circle cx="847.5" cy="336.3" r="2.55" fill="#80207a"/>
<circle cx="804.7" cy="295.6" r="2.55" fill="#542680"/>
<circle cx="806.0" cy="45.8" r="2.55" fill="#542680"/>
<circle cx="839.7" cy="334.0" r="2.55" fill="#93246f"/>
<circle cx="891.5" cy="46.4" r="2.55" fill="#fbb530"/>
<circle cx="807.6" cy="160.3" r="2.55" fill="#542680"/>
<circle cx="850.3" cy="252.6" r="2.55" fill="#93246f"/>
<circle cx="806.7" cy="197.6" r="2.55" fill="#542680"/>
<circle cx="824.3" cy="247.9" r="2.55" fill="#80207a"/>
<circle cx="853.1" cy="168.8" r="2.55" fill="#542680"/>
<circle cx="863.8" cy="336.6" r="2.55" fill="#93246f"/>
<circle cx="845.1" cy="248.0" r="2.55" fill="#93246f"/>
<circle cx="760.6" cy="172.0" r="2.55" fill="#93246f"/>
<circle cx="855.3" cy="130.4" r="2.55" fill="#d6514b"/>
<circle cx="792.3" cy="253.3" r="2.55" fill="#542680"/>
<circle cx="829.6" cy="265.4" r="2.55" fill="#80207a"/>
<circle cx="929.7" cy="129.7" r="2.55" fill="#d6514b"/>
<circle cx="874.2" cy="88.5" r="2.55" fill="#80207a"/>
<circle cx="857.2" cy="46.9" r="2.55" fill="#fbb530"/>
<circle cx="817.8" cy="100.8" r="2.55" fill="#542680"/>
<circle cx="807.5" cy="204.9" r="2.55" fill="#542680"/>
<circle cx="798.4" cy="126.0" r="2.55" fill="#542680"/>
<circle cx="820.6" cy="92.6" r="2.55" fill="#542680"/>
<circle cx="809.7" cy="101.3" r="2.55" fill="#542680"/>
<circle cx="904.2" cy="211.8" r="2.55" fill="#fbb530"/>
<circle cx="807.4" cy="298.4" r="2.55" fill="#542680"/>
<circle cx="836.5" cy="157.8" r="2.55" fill="#80207a"/>
<circle cx="837.9" cy="164.3" r="2.55" fill="#80207a"/>
<circle cx="840.7" cy="128.6" r="2.55" fill="#d6514b"/>
<circle cx="814.2" cy="98.4" r="2.55" fill="#542680"/>
<circle cx="813.0" cy="238.3" r="2.55" fill="#542680"/>
<circle cx="897.9" cy="253.7" r="2.55" fill="#80207a"/>
<circle cx="901.3" cy="50.1" r="2.55" fill="#f9ad2c"/>
<circle cx="790.3" cy="50.2" r="2.55" fill="#542680"/>
<circle cx="780.5" cy="294.2" r="2.55" fill="#542680"/>
<circle cx="807.6" cy="131.5" r="2.55" fill="#542680"/>
<circle cx="836.6" cy="332.8" r="2.55" fill="#5e2783"/>
<circle cx="809.5" cy="184.1" r="2.55" fill="#93246f"/>
<circle cx="803.7" cy="199.3" r="2.55" fill="#542680"/>
<circle cx="817.4" cy="262.6" r="2.55" fill="#542680"/>
<circle cx="817.4" cy="211.0" r="2.55" fill="#542680"/>
<circle cx="830.3" cy="177.1" r="2.55" fill="#c53f52"/>
<circle cx="796.6" cy="63.2" r="2.55" fill="#542680"/>
<circle cx="812.9" cy="139.0" r="2.55" fill="#542680"/>
<circle cx="852.7" cy="164.3" r="2.55" fill="#542680"/>
<circle cx="812.6" cy="170.9" r="2.55" fill="#80207a"/>
<circle cx="806.9" cy="211.7" r="2.55" fill="#542680"/>
<circle cx="894.2" cy="51.0" r="2.55" fill="#fbb530"/>
<circle cx="856.4" cy="173.2" r="2.55" fill="#80207a"/>
<circle cx="841.9" cy="48.7" r="2.55" fill="#f9ad2c"/>
<circle cx="805.2" cy="170.6" r="2.55" fill="#80207a"/>
<circle cx="835.5" cy="165.4" r="2.55" fill="#542680"/>
<circle cx="847.1" cy="210.3" r="2.55" fill="#fbb530"/>
<circle cx="802.4" cy="294.3" r="2.55" fill="#542680"/>
<circle cx="814.7" cy="251.7" r="2.55" fill="#542680"/>
<circle cx="800.5" cy="177.3" r="2.55" fill="#80207a"/>
<circle cx="815.7" cy="207.3" r="2.55" fill="#542680"/>
<circle cx="877.1" cy="88.2" r="2.55" fill="#542680"/>
<circle cx="843.2" cy="289.4" r="2.55" fill="#80207a"/>
<circle cx="852.7" cy="178.0" r="2.55" fill="#80207a"/>
<circle cx="802.2" cy="119.9" r="2.55" fill="#542680"/>
<circle cx="834.3" cy="258.4" r="2.55" fill="#80207a"/>
<circle cx="750.2" cy="50.2" r="2.55" fill="#542680"/>
<circle cx="814.6" cy="130.1" r="2.55" fill="#542680"/>
<circle cx="782.1" cy="90.9" r="2.55" fill="#542680"/>
<circle cx="807.9" cy="298.0" r="2.55" fill="#542680"/>
<circle cx="833.7" cy="213.6" r="2.55" fill="#f9ad2c"/>
<circle cx="790.6" cy="56.3" r="2.55" fill="#542680"/>
<circle cx="817.1" cy="171.9" r="2.55" fill="#80207a"/>
<circle cx="841.8" cy="296.4" r="2.55" fill="#80207a"/>
<circle cx="805.8" cy="208.3" r="2.55" fill="#542680"/>
<circle cx="903.4" cy="48.4" r="2.55" fill="#f9ad2c"/>
<circle cx="840.0" cy="292.1" r="2.55" fill="#80207a"/>
<circle cx="943.6" cy="48.9" r="2.55" fill="#fbb530"/>
<circle cx="819.9" cy="168.1" r="2.55" fill="#80207a"/>
<circle cx="800.5" cy="139.0" r="2.55" fill="#542680"/>
<circle cx="776.0" cy="253.3" r="2.55" fill="#542680"/>
<circle cx="827.9" cy="299.8" r="2.55" fill="#542680"/>
<circle cx="814.0" cy="131.1" r="2.55" fill="#542680"/>
<circle cx="798.1" cy="167.1" r="2.55" fill="#80207a"/>
<circle cx="798.2" cy="32.9" r="2.55" fill="#542680"/>
<circle cx="845.1" cy="257.9" r="2.55" fill="#93246f"/>
<circle cx="780.2" cy="253.8" r="2.55" fill="#542680"/>
<circle cx="889.0" cy="254.9" r="2.55" fill="#80207a"/>
<circle cx="806.9" cy="245.5" r="2.55" fill="#542680"/>
<circle cx="758.9" cy="170.6" r="2.55" fill="#542680"/>
<circle cx="902.3" cy="45.6" r="2.55" fill="#fbb530"/>
<circle cx="808.9" cy="295.3" r="2.55" fill="#542680"/>
<circle cx="816.6" cy="283.5" r="2.55" fill="#542680"/>
<circle cx="909.1" cy="212.1" r="2.55" fill="#f9ad2c"/>
<circle cx="894.0" cy="91.4" r="2.55" fill="#c53f52"/>
<circle cx="922.1" cy="129.9" r="2.55" fill="#d6514b"/>
<circle cx="812.1" cy="216.2" r="2.55" fill="#542680"/>
<circle cx="731.8" cy="252.7" r="2.55" fill="#542680"/>
<circle cx="807.0" cy="256.6" r="2.55" fill="#542680"/>
<circle cx="822.0" cy="88.2" r="2.55" fill="#542680"/>
<circle cx="827.8" cy="90.4" r="2.55" fill="#80207a"/>
<circle cx="835.8" cy="89.2" r="2.55" fill="#80207a"/>
<circle cx="811.1" cy="206.7" r="2.55" fill="#542680"/>
<circle cx="878.2" cy="254.9" r="2.55" fill="#c53f52"/>
<circle cx="865.5" cy="291.5" r="2.55" fill="#542680"/>
<circle cx="828.3" cy="322.5" r="2.55" fill="#5e2783"/>
<circle cx="860.2" cy="211.8" r="2.55" fill="#fbb530"/>
<circle cx="818.6" cy="247.1" r="2.55" fill="#542680"/>
<circle cx="817.2" cy="91.6" r="2.55" fill="#542680"/>
<circle cx="804.6" cy="115.5" r="2.55" fill="#542680"/>
<circle cx="827.5" cy="252.2" r="2.55" fill="#542680"/>
<circle cx="800.0" cy="206.5" r="2.55" fill="#542680"/>
<circle cx="828.3" cy="348.2" r="2.55" fill="#80207a"/>
<circle cx="797.0" cy="173.3" r="2.55" fill="#80207a"/>
<circle cx="816.7" cy="212.4" r="2.55" fill="#542680"/>
<circle cx="848.6" cy="291.5" r="2.55" fill="#542680"/>
<circle cx="861.1" cy="215.5" r="2.55" fill="#fbb530"/>
<circle cx="798.7" cy="134.2" r="2.55" fill="#542680"/>
<circle cx="797.2" cy="89.8" r="2.55" fill="#542680"/>
<circle cx="803.0" cy="118.0" r="2.55" fill="#542680"/>
<circle cx="842.3" cy="165.2" r="2.55" fill="#93246f"/>
<circle cx="809.6" cy="267.4" r="2.55" fill="#5e2783"/>
<circle cx="826.7" cy="181.4" r="2.55" fill="#542680"/>
<circle cx="818.2" cy="177.1" r="2.55" fill="#80207a"/>
<circle cx="768.4" cy="253.7" r="2.55" fill="#542680"/>
<circle cx="931.1" cy="131.0" r="2.55" fill="#fbb530"/>
<circle cx="799.7" cy="219.4" r="2.55" fill="#542680"/>
<circle cx="833.2" cy="159.8" r="2.55" fill="#80207a"/>
<circle cx="843.9" cy="172.3" r="2.55" fill="#542680"/>
<circle cx="809.2" cy="214.2" r="2.55" fill="#542680"/>
<circle cx="800.8" cy="121.1" r="2.55" fill="#542680"/>
<circle cx="915.3" cy="254.3" r="2.55" fill="#93246f"/>
<circle cx="808.8" cy="245.2" r="2.55" fill="#542680"/>
<circle cx="804.3" cy="97.8" r="2.55" fill="#542680"/>
<circle cx="872.4" cy="127.0" r="2.55" fill="#d6514b"/>
<circle cx="798.8" cy="209.6" r="2.55" fill="#542680"/>
<circle cx="849.4" cy="254.7" r="2.55" fill="#80207a"/>
<circle cx="815.8" cy="294.5" r="2.55" fill="#542680"/>
<circle cx="817.5" cy="296.4" r="2.55" fill="#542680"/>
<circle cx="804.1" cy="47.4" r="2.55" fill="#542680"/>
<circle cx="847.6" cy="129.3" r="2.55" fill="#c53f52"/>
<circle cx="949.3" cy="49.4" r="2.55" fill="#fbb530"/>
<circle cx="805.1" cy="159.7" r="2.55" fill="#93246f"/>
<circle cx="802.0" cy="219.4" r="2.55" fill="#542680"/>
<circle cx="847.5" cy="251.6" r="2.55" fill="#80207a"/>
<circle cx="827.3" cy="172.3" r="2.55" fill="#c53f52"/>
<circle cx="815.9" cy="163.6" r="2.55" fill="#93246f"/>
<circle cx="811.3" cy="252.8" r="2.55" fill="#542680"/>
<circle cx="790.7" cy="41.1" r="2.55" fill="#542680"/>
<circle cx="806.1" cy="222.4" r="2.55" fill="#542680"/>
<circle cx="837.2" cy="290.3" r="2.55" fill="#542680"/>
<circle cx="848.9" cy="163.1" r="2.55" fill="#542680"/>
<circle cx="805.3" cy="119.2" r="2.55" fill="#542680"/>
<circle cx="848.1" cy="171.1" r="2.55" fill="#93246f"/>
<circle cx="812.2" cy="182.4" r="2.55" fill="#80207a"/>
<circle cx="811.0" cy="176.5" r="2.55" fill="#542680"/>
<circle cx="813.2" cy="240.4" r="2.55" fill="#542680"/>
<circle cx="815.4" cy="333.5" r="2.55" fill="#80207a"/>
<circle cx="821.7" cy="342.1" r="2.55" fill="#80207a"/>
<circle cx="852.3" cy="254.2" r="2.55" fill="#c53f52"/>
<circle cx="817.8" cy="303.9" r="2.55" fill="#542680"/>
<circle cx="812.5" cy="97.2" r="2.55" fill="#542680"/>
<circle cx="802.2" cy="165.8" r="2.55" fill="#80207a"/>
<circle cx="814.5" cy="215.4" r="2.55" fill="#542680"/>
<circle cx="838.2" cy="176.9" r="2.55" fill="#80207a"/>
<circle cx="885.7" cy="294.3" r="2.55" fill="#542680"/>
<circle cx="844.9" cy="90.4" r="2.55" fill="#542680"/>
<circle cx="856.5" cy="257.3" r="2.55" fill="#80207a"/>
<circle cx="842.4" cy="245.7" r="2.55" fill="#80207a"/>
<circle cx="809.7" cy="265.1" r="2.55" fill="#542680"/>
<circle cx="870.6" cy="45.8" r="2.55" fill="#f9ad2c"/>
<circle cx="904.5" cy="47.0" r="2.55" fill="#fbb530"/>
<circle cx="808.0" cy="173.4" r="2.55" fill="#93246f"/>
<circle cx="878.7" cy="89.6" r="2.55" fill="#80207a"/>
<circle cx="832.8" cy="181.3" r="2.55" fill="#542680"/>
<circle cx="828.3" cy="342.1" r="2.55" fill="#5e2783"/>
<circle cx="927.2" cy="253.6" r="2.55" fill="#c53f52"/>
<circle cx="817.8" cy="337.4" r="2.55" fill="#80207a"/>
<circle cx="872.4" cy="47.3" r="2.55" fill="#fbb530"/>
<circle cx="870.0" cy="296.6" r="2.55" fill="#c53f52"/>
<circle cx="863.9" cy="295.2" r="2.55" fill="#542680"/>
<circle cx="842.7" cy="170.4" r="2.55" fill="#542680"/>
<circle cx="836.1" cy="162.1" r="2.55" fill="#80207a"/>
<circle cx="788.9" cy="41.1" r="2.55" fill="#542680"/>
<circle cx="868.2" cy="334.9" r="2.55" fill="#93246f"/>
<circle cx="812.5" cy="257.2" r="2.55" fill="#5e2783"/>
<circle cx="855.3" cy="209.6" r="2.55" fill="#fbb530"/>
<circle cx="811.3" cy="284.3" r="2.55" fill="#542680"/>
<circle cx="820.6" cy="177.9" r="2.55" fill="#80207a"/>
<circle cx="801.0" cy="135.6" r="2.55" fill="#542680"/>
<circle cx="816.3" cy="301.9" r="2.55" fill="#5e2783"/>
<circle cx="798.6" cy="130.1" r="2.55" fill="#542680"/>
<circle cx="809.9" cy="239.1" r="2.55" fill="#5e2783"/>
<circle cx="814.4" cy="258.8" r="2.55" fill="#542680"/>
<circle cx="909.8" cy="89.3" r="2.55" fill="#542680"/>
<circle cx="806.4" cy="219.0" r="2.55" fill="#542680"/>
<circle cx="791.0" cy="53.5" r="2.55" fill="#542680"/>
<circle cx="800.8" cy="219.4" r="2.55" fill="#542680"/>
<circle cx="795.8" cy="53.2" r="2.55" fill="#542680"/>
<circle cx="807.6" cy="290.2" r="2.55" fill="#542680"/>
<circle cx="784.8" cy="293.9" r="2.55" fill="#542680"/>
<circle cx="812.2" cy="163.3" r="2.55" fill="#80207a"/>
<circle cx="882.8" cy="46.7" r="2.55" fill="#fbb530"/>
<circle cx="828.2" cy="163.5" r="2.55" fill="#542680"/>
<circle cx="823.9" cy="86.9" r="2.55" fill="#542680"/>
<circle cx="828.2" cy="247.9" r="2.55" fill="#542680"/>
<circle cx="814.1" cy="204.3" r="2.55" fill="#542680"/>
<circle cx="806.8" cy="162.3" r="2.55" fill="#93246f"/>
<circle cx="815.8" cy="260.3" r="2.55" fill="#5e2783"/>
<circle cx="807.4" cy="45.1" r="2.55" fill="#542680"/>
<circle cx="808.5" cy="208.8" r="2.55" fill="#542680"/>
<circle cx="810.2" cy="180.0" r="2.55" fill="#80207a"/>
<circle cx="817.6" cy="255.2" r="2.55" fill="#542680"/>
<circle cx="816.5" cy="86.8" r="2.55" fill="#542680"/>
<circle cx="797.8" cy="168.8" r="2.55" fill="#80207a"/>
<circle cx="792.8" cy="294.0" r="2.55" fill="#542680"/>
<circle cx="832.4" cy="335.8" r="2.55" fill="#93246f"/>
<circle cx="861.8" cy="293.3" r="2.55" fill="#542680"/>
<circle cx="833.8" cy="266.9" r="2.55" fill="#80207a"/>
<circle cx="815.0" cy="181.0" r="2.55" fill="#80207a"/>
<circle cx="813.7" cy="218.4" r="2.55" fill="#542680"/>
<circle cx="834.8" cy="334.6" r="2.55" fill="#93246f"/>
<circle cx="807.9" cy="201.3" r="2.55" fill="#542680"/>
<circle cx="833.0" cy="90.6" r="2.55" fill="#80207a"/>
<circle cx="810.7" cy="297.9" r="2.55" fill="#542680"/>
<circle cx="818.5" cy="258.0" r="2.55" fill="#542680"/>
<circle cx="854.3" cy="168.2" r="2.55" fill="#80207a"/>
<circle cx="819.3" cy="80.7" r="2.55" fill="#542680"/>
<circle cx="829.8" cy="210.9" r="2.55" fill="#fbb530"/>
<circle cx="805.7" cy="40.2" r="2.55" fill="#542680"/>
<circle cx="864.6" cy="132.0" r="2.55" fill="#d6514b"/>
<circle cx="830.2" cy="89.8" r="2.55" fill="#542680"/>
<circle cx="812.7" cy="307.3" r="2.55" fill="#542680"/>
<circle cx="810.6" cy="263.9" r="2.55" fill="#542680"/>
<circle cx="813.6" cy="117.8" r="2.55" fill="#542680"/>
<circle cx="828.8" cy="244.3" r="2.55" fill="#542680"/>
<circle cx="827.4" cy="266.7" r="2.55" fill="#80207a"/>
<circle cx="821.4" cy="212.6" r="2.55" fill="#542680"/>
<circle cx="816.0" cy="80.0" r="2.55" fill="#542680"/>
<circle cx="860.8" cy="291.3" r="2.55" fill="#c53f52"/>
<circle cx="850.6" cy="47.1" r="2.55" fill="#fbb530"/>
<circle cx="855.9" cy="128.9" r="2.55" fill="#d6514b"/>
<circle cx="817.1" cy="305.7" r="2.55" fill="#542680"/>
<circle cx="864.5" cy="292.6" r="2.55" fill="#542680"/>
<circle cx="817.6" cy="166.5" r="2.55" fill="#80207a"/>
<circle cx="824.7" cy="296.3" r="2.55" fill="#542680"/>
<circle cx="816.3" cy="169.8" r="2.55" fill="#80207a"/>
<circle cx="802.1" cy="82.7" r="2.55" fill="#542680"/>
<circle cx="824.3" cy="304.0" r="2.55" fill="#542680"/>
<circle cx="824.4" cy="341.1" r="2.55" fill="#80207a"/>
<circle cx="925.2" cy="252.7" r="2.55" fill="#80207a"/>
<circle cx="855.7" cy="170.8" r="2.55" fill="#c53f52"/>
<circle cx="815.7" cy="248.0" r="2.55" fill="#80207a"/>
<circle cx="842.1" cy="246.8" r="2.55" fill="#80207a"/>
<circle cx="800.0" cy="42.6" r="2.55" fill="#542680"/>
<circle cx="785.1" cy="335.7" r="2.55" fill="#80207a"/>
<circle cx="836.4" cy="184.5" r="2.55" fill="#80207a"/>
<circle cx="845.8" cy="180.2" r="2.55" fill="#93246f"/>
<circle cx="826.5" cy="338.8" r="2.55" fill="#5e2783"/>
<circle cx="811.1" cy="145.1" r="2.55" fill="#542680"/>
<circle cx="863.9" cy="171.8" r="2.55" fill="#c53f52"/>
<circle cx="804.0" cy="206.9" r="2.55" fill="#542680"/>
<circle cx="798.2" cy="216.2" r="2.55" fill="#542680"/>
<circle cx="819.0" cy="280.9" r="2.55" fill="#542680"/>
<circle cx="790.6" cy="252.2" r="2.55" fill="#5e2783"/>
<circle cx="858.0" cy="336.3" r="2.55" fill="#80207a"/>
<circle cx="807.2" cy="175.0" r="2.55" fill="#80207a"/>
<circle cx="844.6" cy="165.1" r="2.55" fill="#542680"/>
<circle cx="859.1" cy="171.3" r="2.55" fill="#542680"/>
<circle cx="803.8" cy="53.9" r="2.55" fill="#542680"/>
<circle cx="928.9" cy="212.7" r="2.55" fill="#f9ad2c"/>
<circle cx="842.6" cy="160.9" r="2.55" fill="#542680"/>
<circle cx="926.4" cy="212.1" r="2.55" fill="#f9ad2c"/>
<circle cx="945.2" cy="129.0" r="2.55" fill="#d6514b"/>
<circle cx="817.2" cy="334.5" r="2.55" fill="#93246f"/>
<circle cx="833.3" cy="157.9" r="2.55" fill="#c53f52"/>
<circle cx="853.7" cy="174.6" r="2.55" fill="#80207a"/>
<circle cx="968.4" cy="47.2" r="2.55" fill="#fbb530"/>
<circle cx="868.1" cy="88.7" r="2.55" fill="#542680"/>
<circle cx="815.0" cy="293.9" r="2.55" fill="#542680"/>
<circle cx="854.8" cy="172.7" r="2.55" fill="#93246f"/>
<circle cx="850.5" cy="90.2" r="2.55" fill="#542680"/>
<circle cx="833.7" cy="332.2" r="2.55" fill="#93246f"/>
<circle cx="799.5" cy="170.6" r="2.55" fill="#80207a"/>
<circle cx="833.4" cy="255.1" r="2.55" fill="#80207a"/>
<circle cx="849.2" cy="171.2" r="2.55" fill="#80207a"/>
<circle cx="749.2" cy="48.7" r="2.55" fill="#542680"/>
<circle cx="768.9" cy="170.1" r="2.55" fill="#80207a"/>
<circle cx="817.4" cy="281.4" r="2.55" fill="#542680"/>
<circle cx="827.0" cy="245.7" r="2.55" fill="#80207a"/>
<circle cx="745.8" cy="254.0" r="2.55" fill="#542680"/>
<circle cx="814.0" cy="297.3" r="2.55" fill="#5e2783"/>
<circle cx="814.3" cy="167.9" r="2.55" fill="#80207a"/>
<circle cx="810.9" cy="245.4" r="2.55" fill="#5e2783"/>
<circle cx="806.4" cy="165.6" r="2.55" fill="#80207a"/>
<circle cx="834.8" cy="264.9" r="2.55" fill="#80207a"/>
<circle cx="874.8" cy="251.9" r="2.55" fill="#542680"/>
<circle cx="820.6" cy="283.2" r="2.55" fill="#542680"/>
<circle cx="787.1" cy="212.6" r="2.55" fill="#542680"/>
<circle cx="819.4" cy="288.2" r="2.55" fill="#542680"/>
<circle cx="814.2" cy="304.3" r="2.55" fill="#542680"/>
<circle cx="829.9" cy="256.6" r="2.55" fill="#80207a"/>
<circle cx="879.8" cy="251.7" r="2.55" fill="#80207a"/>
<circle cx="770.3" cy="171.4" r="2.55" fill="#542680"/>
<circle cx="825.5" cy="245.0" r="2.55" fill="#542680"/>
<circle cx="816.8" cy="159.7" r="2.55" fill="#80207a"/>
<circle cx="802.7" cy="169.7" r="2.55" fill="#542680"/>
<circle cx="838.5" cy="129.2" r="2.55" fill="#c53f52"/>
<circle cx="798.5" cy="40.6" r="2.55" fill="#542680"/>
<circle cx="795.1" cy="334.9" r="2.55" fill="#80207a"/>
<circle cx="813.4" cy="171.3" r="2.55" fill="#93246f"/>
<circle cx="843.8" cy="333.7" r="2.55" fill="#80207a"/>
<circle cx="825.5" cy="344.3" r="2.55" fill="#5e2783"/>
<circle cx="803.5" cy="163.5" r="2.55" fill="#80207a"/>
<circle cx="887.2" cy="90.7" r="2.55" fill="#80207a"/>
<circle cx="897.8" cy="49.5" r="2.55" fill="#fbb530"/>
<circle cx="814.1" cy="244.4" r="2.55" fill="#5e2783"/>
<circle cx="818.6" cy="88.6" r="2.55" fill="#542680"/>
<circle cx="804.6" cy="216.8" r="2.55" fill="#542680"/>
<circle cx="813.4" cy="305.8" r="2.55" fill="#542680"/>
<circle cx="802.7" cy="88.6" r="2.55" fill="#542680"/>
<circle cx="867.3" cy="45.0" r="2.55" fill="#fbb530"/>
<circle cx="902.9" cy="252.2" r="2.55" fill="#c53f52"/>
<circle cx="869.2" cy="90.1" r="2.55" fill="#80207a"/>
<circle cx="809.7" cy="203.8" r="2.55" fill="#542680"/>
<circle cx="771.9" cy="170.8" r="2.55" fill="#80207a"/>
<circle cx="812.3" cy="289.4" r="2.55" fill="#542680"/>
<circle cx="808.7" cy="180.3" r="2.55" fill="#93246f"/>
<circle cx="805.4" cy="126.8" r="2.55" fill="#542680"/>
<circle cx="808.1" cy="242.3" r="2.55" fill="#542680"/>
<circle cx="823.9" cy="348.8" r="2.55" fill="#5e2783"/>
<circle cx="874.8" cy="292.7" r="2.55" fill="#542680"/>
<circle cx="799.2" cy="133.4" r="2.55" fill="#542680"/>
<circle cx="829.9" cy="331.7" r="2.55" fill="#5e2783"/>
<circle cx="858.4" cy="251.3" r="2.55" fill="#93246f"/>
<circle cx="753.3" cy="46.2" r="2.55" fill="#542680"/>
<circle cx="855.2" cy="294.2" r="2.55" fill="#542680"/>
<circle cx="812.2" cy="260.9" r="2.55" fill="#542680"/>
<circle cx="807.4" cy="81.3" r="2.55" fill="#542680"/>
<circle cx="911.1" cy="212.9" r="2.55" fill="#fbb530"/>
<circle cx="848.9" cy="131.6" r="2.55" fill="#d6514b"/>
<circle cx="788.8" cy="254.1" r="2.55" fill="#542680"/>
<circle cx="946.6" cy="130.5" r="2.55" fill="#d6514b"/>
<circle cx="829.0" cy="131.4" r="2.55" fill="#d6514b"/>
<circle cx="803.0" cy="178.6" r="2.55" fill="#80207a"/>
<circle cx="839.7" cy="295.1" r="2.55" fill="#542680"/>
<circle cx="815.2" cy="241.2" r="2.55" fill="#80207a"/>
<circle cx="901.1" cy="254.4" r="2.55" fill="#93246f"/>
<circle cx="819.2" cy="97.7" r="2.55" fill="#542680"/>
<circle cx="884.7" cy="45.9" r="2.55" fill="#fbb530"/>
<circle cx="804.0" cy="219.9" r="2.55" fill="#542680"/>
<circle cx="858.1" cy="294.4" r="2.55" fill="#542680"/>
<circle cx="815.0" cy="265.1" r="2.55" fill="#542680"/>
<circle cx="838.8" cy="263.2" r="2.55" fill="#93246f"/>
<circle cx="823.5" cy="285.3" r="2.55" fill="#542680"/>
<circle cx="825.6" cy="243.0" r="2.55" fill="#80207a"/>
<circle cx="954.9" cy="129.7" r="2.55" fill="#d6514b"/>
<circle cx="875.1" cy="171.8" r="2.55" fill="#93246f"/>
<circle cx="936.3" cy="48.7" r="2.55" fill="#f9ad2c"/>
<circle cx="863.5" cy="132.9" r="2.55" fill="#d6514b"/>
<circle cx="805.0" cy="82.1" r="2.55" fill="#542680"/>
<circle cx="806.6" cy="124.9" r="2.55" fill="#542680"/>
<circle cx="863.4" cy="299.6" r="2.55" fill="#80207a"/>
<circle cx="900.7" cy="47.3" r="2.55" fill="#fbb530"/>
<circle cx="808.1" cy="51.5" r="2.55" fill="#542680"/>
<circle cx="800.6" cy="53.8" r="2.55" fill="#542680"/>
<circle cx="765.3" cy="170.9" r="2.55" fill="#93246f"/>
<circle cx="833.4" cy="338.1" r="2.55" fill="#80207a"/>
<circle cx="793.2" cy="62.2" r="2.55" fill="#542680"/>
<circle cx="827.1" cy="342.5" r="2.55" fill="#5e2783"/>
<circle cx="837.4" cy="255.5" r="2.55" fill="#80207a"/>
<circle cx="799.5" cy="126.8" r="2.55" fill="#542680"/>
<circle cx="802.9" cy="37.1" r="2.55" fill="#542680"/>
<circle cx="787.4" cy="334.9" r="2.55" fill="#80207a"/>
<circle cx="876.6" cy="171.1" r="2.55" fill="#93246f"/>
<circle cx="818.5" cy="333.5" r="2.55" fill="#80207a"/>
<circle cx="865.0" cy="126.1" r="2.55" fill="#d6514b"/>
<circle cx="807.8" cy="219.9" r="2.55" fill="#542680"/>
<circle cx="889.8" cy="293.4" r="2.55" fill="#542680"/>
<circle cx="856.9" cy="334.9" r="2.55" fill="#80207a"/>
<circle cx="812.6" cy="223.3" r="2.55" fill="#542680"/>
<circle cx="829.0" cy="181.4" r="2.55" fill="#542680"/>
<circle cx="854.1" cy="295.1" r="2.55" fill="#542680"/>
<circle cx="839.3" cy="171.8" r="2.55" fill="#80207a"/>
<circle cx="801.2" cy="203.9" r="2.55" fill="#542680"/>
<circle cx="872.0" cy="252.4" r="2.55" fill="#fbb530"/>
<circle cx="1002.2" cy="47.5" r="2.55" fill="#fbb530"/>
<circle cx="730.1" cy="253.7" r="2.55" fill="#542680"/>
<circle cx="785.1" cy="212.1" r="2.55" fill="#542680"/>
<circle cx="809.4" cy="94.0" r="2.55" fill="#542680"/>
<circle cx="814.1" cy="157.5" r="2.55" fill="#80207a"/>
<circle cx="829.2" cy="301.0" r="2.55" fill="#542680"/>
<circle cx="821.7" cy="180.0" r="2.55" fill="#542680"/>
<circle cx="803.8" cy="40.9" r="2.55" fill="#542680"/>
<circle cx="823.0" cy="176.2" r="2.55" fill="#80207a"/>
<circle cx="812.6" cy="286.0" r="2.55" fill="#542680"/>
<circle cx="867.5" cy="298.3" r="2.55" fill="#542680"/>
<circle cx="830.8" cy="170.9" r="2.55" fill="#80207a"/>
<circle cx="801.7" cy="56.3" r="2.55" fill="#542680"/>
<circle cx="806.3" cy="204.6" r="2.55" fill="#542680"/>
<circle cx="875.1" cy="48.5" r="2.55" fill="#fbb530"/>
<circle cx="806.5" cy="334.9" r="2.55" fill="#5e2783"/>
<circle cx="803.6" cy="140.4" r="2.55" fill="#542680"/>
<circle cx="957.1" cy="130.8" r="2.55" fill="#fbb530"/>
<circle cx="822.8" cy="253.5" r="2.55" fill="#542680"/>
<circle cx="796.5" cy="32.8" r="2.55" fill="#542680"/>
<circle cx="852.8" cy="213.0" r="2.55" fill="#fbb530"/>
<circle cx="852.3" cy="48.4" r="2.55" fill="#f9ad2c"/>
<circle cx="834.2" cy="163.0" r="2.55" fill="#80207a"/>
<circle cx="830.2" cy="164.7" r="2.55" fill="#80207a"/>
<circle cx="889.6" cy="47.1" r="2.55" fill="#f9ad2c"/>
<circle cx="794.5" cy="54.0" r="2.55" fill="#542680"/>
<circle cx="804.4" cy="145.2" r="2.55" fill="#542680"/>
<circle cx="804.7" cy="130.6" r="2.55" fill="#542680"/>
<circle cx="859.6" cy="334.5" r="2.55" fill="#93246f"/>
<circle cx="859.4" cy="213.7" r="2.55" fill="#fbb530"/>
<circle cx="766.8" cy="212.7" r="2.55" fill="#542680"/>
<circle cx="835.0" cy="210.9" r="2.55" fill="#fbb530"/>
<circle cx="801.7" cy="175.4" r="2.55" fill="#80207a"/>
<circle cx="825.3" cy="260.8" r="2.55" fill="#93246f"/>
<circle cx="806.0" cy="117.2" r="2.55" fill="#542680"/>
<circle cx="831.4" cy="253.4" r="2.55" fill="#80207a"/>
<circle cx="844.3" cy="212.1" r="2.55" fill="#fbb530"/>
<circle cx="844.9" cy="252.8" r="2.55" fill="#542680"/>
<circle cx="858.0" cy="127.9" r="2.55" fill="#fbb530"/>
<circle cx="856.3" cy="296.6" r="2.55" fill="#542680"/>
<circle cx="818.8" cy="259.4" r="2.55" fill="#542680"/>
<circle cx="816.5" cy="257.0" r="2.55" fill="#80207a"/>
<circle cx="788.8" cy="294.2" r="2.55" fill="#542680"/>
<circle cx="868.5" cy="294.7" r="2.55" fill="#542680"/>
<circle cx="838.3" cy="211.8" r="2.55" fill="#f9ad2c"/>
<circle cx="801.1" cy="168.3" r="2.55" fill="#542680"/>
<circle cx="808.2" cy="40.9" r="2.55" fill="#542680"/>
<circle cx="814.0" cy="117.0" r="2.55" fill="#542680"/>
<circle cx="801.8" cy="38.4" r="2.55" fill="#542680"/>
<circle cx="807.7" cy="244.3" r="2.55" fill="#542680"/>
<circle cx="851.1" cy="173.0" r="2.55" fill="#c53f52"/>
<circle cx="807.9" cy="48.0" r="2.55" fill="#542680"/>
<circle cx="807.4" cy="212.4" r="2.55" fill="#542680"/>
<circle cx="815.9" cy="207.6" r="2.55" fill="#542680"/>
<circle cx="845.4" cy="169.9" r="2.55" fill="#80207a"/>
<circle cx="826.7" cy="303.6" r="2.55" fill="#542680"/>
<circle cx="879.9" cy="169.8" r="2.55" fill="#c53f52"/>
<circle cx="817.3" cy="85.4" r="2.55" fill="#542680"/>
<circle cx="801.6" cy="41.9" r="2.55" fill="#542680"/>
<circle cx="842.4" cy="260.8" r="2.55" fill="#542680"/>
<circle cx="881.4" cy="171.2" r="2.55" fill="#93246f"/>
<circle cx="890.5" cy="251.7" r="2.55" fill="#93246f"/>
<circle cx="820.8" cy="330.0" r="2.55" fill="#80207a"/>
<circle cx="802.2" cy="134.7" r="2.55" fill="#542680"/>
<circle cx="785.8" cy="88.1" r="2.55" fill="#542680"/>
<circle cx="793.8" cy="43.1" r="2.55" fill="#542680"/>
<circle cx="817.3" cy="245.2" r="2.55" fill="#542680"/>
<circle cx="817.1" cy="261.8" r="2.55" fill="#542680"/>
<circle cx="835.9" cy="179.2" r="2.55" fill="#80207a"/>
<circle cx="883.8" cy="49.9" r="2.55" fill="#fbb530"/>
<circle cx="826.4" cy="160.0" r="2.55" fill="#542680"/>
<circle cx="839.7" cy="243.5" r="2.55" fill="#80207a"/>
<circle cx="802.9" cy="61.6" r="2.55" fill="#542680"/>
<circle cx="792.2" cy="41.7" r="2.55" fill="#542680"/>
<circle cx="815.3" cy="217.5" r="2.55" fill="#542680"/>
<circle cx="747.9" cy="252.5" r="2.55" fill="#542680"/>
<circle cx="818.0" cy="96.9" r="2.55" fill="#542680"/>
<circle cx="815.2" cy="74.9" r="2.55" fill="#542680"/>
<circle cx="865.0" cy="334.1" r="2.55" fill="#80207a"/>
<circle cx="829.8" cy="300.5" r="2.55" fill="#542680"/>
<circle cx="828.6" cy="213.4" r="2.55" fill="#fbb530"/>
<circle cx="906.8" cy="212.5" r="2.55" fill="#f9ad2c"/>
<circle cx="827.8" cy="129.5" r="2.55" fill="#d6514b"/>
<circle cx="853.5" cy="132.6" r="2.55" fill="#d6514b"/>
<circle cx="796.3" cy="170.1" r="2.55" fill="#542680"/>
<circle cx="803.5" cy="200.7" r="2.55" fill="#542680"/>
<circle cx="808.7" cy="223.2" r="2.55" fill="#542680"/>
<circle cx="858.6" cy="131.3" r="2.55" fill="#d6514b"/>
<circle cx="801.9" cy="138.4" r="2.55" fill="#542680"/>
<circle cx="781.5" cy="335.5" r="2.55" fill="#80207a"/>
<circle cx="833.0" cy="289.9" r="2.55" fill="#542680"/>
<circle cx="751.1" cy="45.3" r="2.55" fill="#542680"/>
<circle cx="806.9" cy="226.4" r="2.55" fill="#542680"/>
<circle cx="852.3" cy="129.9" r="2.55" fill="#d6514b"/>
<circle cx="839.1" cy="289.2" r="2.55" fill="#542680"/>
<circle cx="827.5" cy="321.0" r="2.55" fill="#5e2783"/>
<circle cx="870.1" cy="336.0" r="2.55" fill="#80207a"/>
<circle cx="877.6" cy="294.0" r="2.55" fill="#542680"/>
<circle cx="807.0" cy="252.5" r="2.55" fill="#542680"/>
<circle cx="891.7" cy="253.3" r="2.55" fill="#80207a"/>
<circle cx="821.5" cy="328.6" r="2.55" fill="#5e2783"/>
<circle cx="801.1" cy="128.3" r="2.55" fill="#542680"/>
<circle cx="792.8" cy="51.9" r="2.55" fill="#542680"/>
<circle cx="813.0" cy="135.5" r="2.55" fill="#542680"/>
<circle cx="791.1" cy="170.7" r="2.55" fill="#542680"/>
<circle cx="870.9" cy="253.4" r="2.55" fill="#542680"/>
<circle cx="894.8" cy="254.1" r="2.55" fill="#80207a"/>
<circle cx="828.7" cy="332.5" r="2.55" fill="#80207a"/>
<circle cx="827.7" cy="265.8" r="2.55" fill="#542680"/>
<circle cx="801.9" cy="208.5" r="2.55" fill="#542680"/>
<circle cx="809.8" cy="334.5" r="2.55" fill="#5e2783"/>
<circle cx="805.5" cy="254.9" r="2.55" fill="#542680"/>
<circle cx="811.7" cy="284.4" r="2.55" fill="#542680"/>
<circle cx="808.7" cy="163.3" r="2.55" fill="#80207a"/>
<circle cx="743.9" cy="253.2" r="2.55" fill="#542680"/>
<circle cx="797.9" cy="62.9" r="2.55" fill="#542680"/>
<circle cx="848.4" cy="249.1" r="2.55" fill="#80207a"/>
<circle cx="851.4" cy="169.4" r="2.55" fill="#80207a"/>
<circle cx="797.9" cy="208.2" r="2.55" fill="#542680"/>
<circle cx="825.3" cy="167.6" r="2.55" fill="#80207a"/>
<circle cx="814.5" cy="87.5" r="2.55" fill="#542680"/>
<circle cx="962.3" cy="46.7" r="2.55" fill="#f9ad2c"/>
<circle cx="786.8" cy="54.1" r="2.55" fill="#542680"/>
<circle cx="845.9" cy="164.3" r="2.55" fill="#542680"/>
<circle cx="844.2" cy="255.7" r="2.55" fill="#80207a"/>
<circle cx="821.8" cy="300.4" r="2.55" fill="#542680"/>
<circle cx="838.6" cy="337.3" r="2.55" fill="#80207a"/>
<circle cx="885.3" cy="49.1" r="2.55" fill="#fbb530"/>
<circle cx="783.3" cy="335.2" r="2.55" fill="#80207a"/>
<circle cx="803.0" cy="132.9" r="2.55" fill="#542680"/>
<circle cx="806.6" cy="226.8" r="2.55" fill="#542680"/>
<circle cx="864.4" cy="49.1" r="2.55" fill="#fbb530"/>
<circle cx="841.3" cy="251.5" r="2.55" fill="#93246f"/>
<circle cx="805.4" cy="134.4" r="2.55" fill="#542680"/>
<circle cx="834.2" cy="339.8" r="2.55" fill="#93246f"/>
<circle cx="814.2" cy="290.4" r="2.55" fill="#542680"/>
<circle cx="807.9" cy="184.4" r="2.55" fill="#80207a"/>
<circle cx="839.7" cy="248.7" r="2.55" fill="#80207a"/>
<circle cx="785.2" cy="170.5" r="2.55" fill="#542680"/>
<circle cx="836.6" cy="297.0" r="2.55" fill="#542680"/>
<circle cx="819.2" cy="179.5" r="2.55" fill="#93246f"/>
<circle cx="802.6" cy="217.0" r="2.55" fill="#542680"/>
<circle cx="811.6" cy="73.9" r="2.55" fill="#5e2783"/>
<circle cx="831.9" cy="246.0" r="2.55" fill="#80207a"/>
<circle cx="821.3" cy="131.8" r="2.55" fill="#542680"/>
<circle cx="803.0" cy="211.0" r="2.55" fill="#542680"/>
<circle cx="819.2" cy="80.3" r="2.55" fill="#542680"/>
<circle cx="770.2" cy="213.4" r="2.55" fill="#542680"/>
<circle cx="816.6" cy="298.2" r="2.55" fill="#542680"/>
<circle cx="800.1" cy="166.1" r="2.55" fill="#93246f"/>
<circle cx="804.1" cy="144.2" r="2.55" fill="#542680"/>
<circle cx="805.2" cy="201.5" r="2.55" fill="#542680"/>
<circle cx="823.3" cy="161.6" r="2.55" fill="#93246f"/>
<circle cx="905.9" cy="252.9" r="2.55" fill="#80207a"/>
<circle cx="850.7" cy="213.5" r="2.55" fill="#f9ad2c"/>
<circle cx="815.5" cy="179.1" r="2.55" fill="#80207a"/>
<circle cx="850.6" cy="165.5" r="2.55" fill="#93246f"/>
<circle cx="799.5" cy="85.0" r="2.55" fill="#542680"/>
<circle cx="944.8" cy="47.1" r="2.55" fill="#f9ad2c"/>
<circle cx="825.1" cy="336.7" r="2.55" fill="#80207a"/>
<circle cx="843.0" cy="129.6" r="2.55" fill="#d6514b"/>
<circle cx="820.0" cy="161.3" r="2.55" fill="#80207a"/>
<circle cx="808.0" cy="139.1" r="2.55" fill="#542680"/>
<circle cx="804.2" cy="89.3" r="2.55" fill="#542680"/>
<circle cx="866.3" cy="172.7" r="2.55" fill="#80207a"/>
<circle cx="928.0" cy="130.3" r="2.55" fill="#fbb530"/>
<circle cx="860.8" cy="254.4" r="2.55" fill="#542680"/>
<circle cx="762.1" cy="170.3" r="2.55" fill="#80207a"/>
<circle cx="770.1" cy="253.1" r="2.55" fill="#542680"/>
<circle cx="850.3" cy="128.7" r="2.55" fill="#d6514b"/>
<circle cx="840.5" cy="336.4" r="2.55" fill="#93246f"/>
<circle cx="924.3" cy="212.4" r="2.55" fill="#f9ad2c"/>
<circle cx="913.6" cy="89.9" r="2.55" fill="#542680"/>
<circle cx="836.3" cy="168.9" r="2.55" fill="#542680"/>
<circle cx="787.1" cy="171.9" r="2.55" fill="#80207a"/>
<circle cx="947.9" cy="47.9" r="2.55" fill="#f9ad2c"/>
<circle cx="855.1" cy="335.6" r="2.55" fill="#80207a"/>
<circle cx="840.0" cy="163.1" r="2.55" fill="#80207a"/>
<circle cx="834.5" cy="336.7" r="2.55" fill="#80207a"/>
<circle cx="810.7" cy="224.0" r="2.55" fill="#542680"/>
<circle cx="895.7" cy="90.6" r="2.55" fill="#80207a"/>
<circle cx="832.0" cy="177.9" r="2.55" fill="#80207a"/>
<circle cx="789.8" cy="171.6" r="2.55" fill="#93246f"/>
<circle cx="796.7" cy="36.1" r="2.55" fill="#542680"/>
<circle cx="842.0" cy="178.4" r="2.55" fill="#542680"/>
<circle cx="840.9" cy="180.2" r="2.55" fill="#80207a"/>
<circle cx="992.4" cy="48.6" r="2.55" fill="#fbb530"/>
<circle cx="953.9" cy="47.3" r="2.55" fill="#f9ad2c"/>
<circle cx="810.3" cy="144.7" r="2.55" fill="#542680"/>
<circle cx="754.6" cy="47.7" r="2.55" fill="#542680"/>
<circle cx="816.8" cy="182.6" r="2.55" fill="#80207a"/>
<circle cx="850.0" cy="335.8" r="2.55" fill="#93246f"/>
<circle cx="898.8" cy="89.2" r="2.55" fill="#80207a"/>
<circle cx="843.9" cy="294.7" r="2.55" fill="#80207a"/>
<circle cx="822.5" cy="338.1" r="2.55" fill="#80207a"/>
<circle cx="813.1" cy="335.1" r="2.55" fill="#80207a"/>
<circle cx="827.1" cy="239.8" r="2.55" fill="#80207a"/>
<circle cx="826.6" cy="261.4" r="2.55" fill="#80207a"/>
<circle cx="906.7" cy="90.1" r="2.55" fill="#542680"/>
<circle cx="805.8" cy="36.8" r="2.55" fill="#542680"/>
<circle cx="867.4" cy="253.0" r="2.55" fill="#93246f"/>
<circle cx="807.1" cy="128.7" r="2.55" fill="#542680"/>
<circle cx="807.2" cy="49.5" r="2.55" fill="#542680"/>
<circle cx="829.2" cy="325.5" r="2.55" fill="#80207a"/>
<circle cx="833.2" cy="296.5" r="2.55" fill="#542680"/>
<circle cx="798.1" cy="175.2" r="2.55" fill="#80207a"/>
<circle cx="826.0" cy="332.9" r="2.55" fill="#80207a"/>
<circle cx="859.9" cy="170.2" r="2.55" fill="#80207a"/>
<circle cx="802.8" cy="127.3" r="2.55" fill="#542680"/>
<circle cx="885.0" cy="89.2" r="2.55" fill="#80207a"/>
<circle cx="840.5" cy="246.7" r="2.55" fill="#542680"/>
<circle cx="799.8" cy="50.1" r="2.55" fill="#542680"/>
<circle cx="843.7" cy="47.2" r="2.55" fill="#fbb530"/>
<circle cx="813.7" cy="283.5" r="2.55" fill="#542680"/>
<circle cx="802.5" cy="59.5" r="2.55" fill="#542680"/>
<circle cx="804.7" cy="210.1" r="2.55" fill="#542680"/>
<circle cx="837.1" cy="173.9" r="2.55" fill="#80207a"/>
<circle cx="811.1" cy="184.0" r="2.55" fill="#93246f"/>
<circle cx="810.0" cy="77.6" r="2.55" fill="#542680"/>
<circle cx="788.9" cy="90.0" r="2.55" fill="#542680"/>
<circle cx="808.7" cy="142.9" r="2.55" fill="#542680"/>
<circle cx="791.2" cy="47.2" r="2.55" fill="#542680"/>
<circle cx="871.1" cy="292.1" r="2.55" fill="#c53f52"/>
<circle cx="823.7" cy="250.3" r="2.55" fill="#542680"/>
<circle cx="816.7" cy="290.8" r="2.55" fill="#542680"/>
<circle cx="820.1" cy="291.9" r="2.55" fill="#542680"/>
<circle cx="800.8" cy="87.4" r="2.55" fill="#542680"/>
<circle cx="798.4" cy="138.3" r="2.55" fill="#542680"/>
<circle cx="812.8" cy="298.8" r="2.55" fill="#542680"/>
<circle cx="821.1" cy="303.9" r="2.55" fill="#542680"/>
<circle cx="848.1" cy="257.4" r="2.55" fill="#542680"/>
<circle cx="839.7" cy="213.1" r="2.55" fill="#fbb530"/>
<circle cx="813.5" cy="247.8" r="2.55" fill="#542680"/>
<circle cx="822.2" cy="249.5" r="2.55" fill="#80207a"/>
<circle cx="849.2" cy="179.1" r="2.55" fill="#542680"/>
<circle cx="831.2" cy="171.4" r="2.55" fill="#542680"/>
<circle cx="830.1" cy="341.6" r="2.55" fill="#5e2783"/>
<circle cx="810.1" cy="256.5" r="2.55" fill="#542680"/>
<circle cx="813.1" cy="128.6" r="2.55" fill="#542680"/>
<circle cx="843.1" cy="88.8" r="2.55" fill="#542680"/>
<circle cx="828.6" cy="338.7" r="2.55" fill="#80207a"/>
<circle cx="824.6" cy="348.5" r="2.55" fill="#5e2783"/>
<circle cx="863.2" cy="89.8" r="2.55" fill="#80207a"/>
<circle cx="789.3" cy="335.4" r="2.55" fill="#80207a"/>
<circle cx="869.8" cy="251.3" r="2.55" fill="#542680"/>
<circle cx="874.9" cy="132.0" r="2.55" fill="#fbb530"/>
<circle cx="816.1" cy="175.8" r="2.55" fill="#80207a"/>
<circle cx="825.7" cy="340.6" r="2.55" fill="#5e2783"/>
<circle cx="810.9" cy="156.2" r="2.55" fill="#93246f"/>
<circle cx="796.1" cy="45.6" r="2.55" fill="#542680"/>
<circle cx="834.4" cy="87.6" r="2.55" fill="#542680"/>
<circle cx="895.0" cy="45.0" r="2.55" fill="#fbb530"/>
<circle cx="876.6" cy="50.1" r="2.55" fill="#fbb530"/>
<circle cx="860.2" cy="298.3" r="2.55" fill="#c53f52"/>
<circle cx="943.9" cy="130.9" r="2.55" fill="#fbb530"/>
<circle cx="808.3" cy="76.6" r="2.55" fill="#542680"/>
<circle cx="895.5" cy="294.8" r="2.55" fill="#542680"/>
<circle cx="877.7" cy="46.1" r="2.55" fill="#f9ad2c"/>
<circle cx="818.6" cy="249.9" r="2.55" fill="#542680"/>
<circle cx="814.2" cy="207.9" r="2.55" fill="#542680"/>
<circle cx="805.8" cy="249.1" r="2.55" fill="#542680"/>
<circle cx="862.2" cy="169.8" r="2.55" fill="#80207a"/>
<circle cx="965.1" cy="47.5" r="2.55" fill="#fbb530"/>
<circle cx="737.8" cy="253.9" r="2.55" fill="#542680"/>
<circle cx="805.7" cy="142.0" r="2.55" fill="#542680"/>
<circle cx="810.9" cy="213.2" r="2.55" fill="#542680"/>
<circle cx="765.3" cy="211.5" r="2.55" fill="#542680"/>
<circle cx="808.0" cy="101.4" r="2.55" fill="#542680"/>
<circle cx="874.2" cy="129.0" r="2.55" fill="#d6514b"/>
<circle cx="807.9" cy="55.1" r="2.55" fill="#542680"/>
<circle cx="829.7" cy="183.4" r="2.55" fill="#542680"/>
<circle cx="801.7" cy="222.5" r="2.55" fill="#542680"/>
<circle cx="839.8" cy="263.0" r="2.55" fill="#80207a"/>
<circle cx="812.4" cy="178.5" r="2.55" fill="#80207a"/>
<circle cx="824.2" cy="327.2" r="2.55" fill="#5e2783"/>
<circle cx="810.1" cy="165.5" r="2.55" fill="#80207a"/>
<circle cx="955.2" cy="49.0" r="2.55" fill="#fbb530"/>
<circle cx="827.9" cy="303.2" r="2.55" fill="#542680"/>
<circle cx="802.2" cy="92.0" r="2.55" fill="#542680"/>
<circle cx="824.2" cy="246.1" r="2.55" fill="#e8642e"/>
<circle cx="793.2" cy="33.8" r="2.55" fill="#542680"/>
<circle cx="789.1" cy="51.2" r="2.55" fill="#542680"/>
<circle cx="778.1" cy="252.9" r="2.55" fill="#542680"/>
<circle cx="843.2" cy="162.3" r="2.55" fill="#c53f52"/>
<circle cx="868.3" cy="134.3" r="2.55" fill="#d6514b"/>
<circle cx="893.8" cy="293.9" r="2.55" fill="#542680"/>
<circle cx="876.0" cy="294.7" r="2.55" fill="#c53f52"/>
<circle cx="924.3" cy="130.9" r="2.55" fill="#d6514b"/>
<circle cx="859.9" cy="249.1" r="2.55" fill="#542680"/>
<circle cx="911.5" cy="88.6" r="2.55" fill="#542680"/>
<circle cx="814.8" cy="300.9" r="2.55" fill="#542680"/>
<circle cx="847.8" cy="255.8" r="2.55" fill="#80207a"/>
<circle cx="872.5" cy="89.2" r="2.55" fill="#80207a"/>
<circle cx="789.6" cy="57.0" r="2.55" fill="#542680"/>
<circle cx="840.2" cy="174.7" r="2.55" fill="#c53f52"/>
<circle cx="854.9" cy="166.9" r="2.55" fill="#93246f"/>
<circle cx="854.4" cy="127.5" r="2.55" fill="#fbb530"/>
<circle cx="811.7" cy="126.7" r="2.55" fill="#542680"/>
<circle cx="813.4" cy="76.0" r="2.55" fill="#542680"/>
<circle cx="799.9" cy="131.8" r="2.55" fill="#542680"/>
<circle cx="793.5" cy="35.9" r="2.55" fill="#542680"/>
<circle cx="827.9" cy="285.4" r="2.55" fill="#542680"/>
<circle cx="807.5" cy="39.7" r="2.55" fill="#542680"/>
<circle cx="809.4" cy="287.3" r="2.55" fill="#542680"/>
<circle cx="781.4" cy="88.4" r="2.55" fill="#542680"/>
<circle cx="792.2" cy="86.8" r="2.55" fill="#542680"/>
<circle cx="812.3" cy="210.2" r="2.55" fill="#542680"/>
<circle cx="846.2" cy="298.7" r="2.55" fill="#80207a"/>
<circle cx="842.8" cy="299.0" r="2.55" fill="#542680"/>
<circle cx="810.6" cy="130.3" r="2.55" fill="#542680"/>
<circle cx="833.7" cy="262.0" r="2.55" fill="#542680"/>
<circle cx="865.9" cy="251.3" r="2.55" fill="#93246f"/>
<circle cx="855.3" cy="89.0" r="2.55" fill="#542680"/>
<circle cx="920.0" cy="212.7" r="2.55" fill="#fbb530"/>
<circle cx="806.3" cy="171.7" r="2.55" fill="#80207a"/>
<circle cx="824.1" cy="260.4" r="2.55" fill="#93246f"/>
<circle cx="837.8" cy="261.2" r="2.55" fill="#80207a"/>
<circle cx="841.6" cy="89.6" r="2.55" fill="#542680"/>
<circle cx="883.4" cy="87.7" r="2.55" fill="#80207a"/>
<circle cx="915.5" cy="212.3" r="2.55" fill="#fbb530"/>
<circle cx="850.7" cy="256.7" r="2.55" fill="#542680"/>
<circle cx="812.3" cy="242.3" r="2.55" fill="#542680"/>
<circle cx="816.9" cy="78.8" r="2.55" fill="#542680"/>
<circle cx="843.3" cy="212.9" r="2.55" fill="#fbb530"/>
<circle cx="858.0" cy="214.5" r="2.55" fill="#f9ad2c"/>
<circle cx="817.7" cy="250.5" r="2.55" fill="#80207a"/>
<circle cx="821.4" cy="286.9" r="2.55" fill="#5e2783"/>
<circle cx="802.6" cy="173.9" r="2.55" fill="#80207a"/>
<circle cx="808.6" cy="260.2" r="2.55" fill="#542680"/>
<circle cx="815.9" cy="308.8" r="2.55" fill="#542680"/>
<circle cx="800.7" cy="46.4" r="2.55" fill="#542680"/>
<circle cx="809.4" cy="291.9" r="2.55" fill="#542680"/>
<circle cx="868.5" cy="125.9" r="2.55" fill="#d6514b"/>
<circle cx="809.3" cy="170.1" r="2.55" fill="#80207a"/>
<circle cx="864.5" cy="213.9" r="2.55" fill="#fbb530"/>
<circle cx="804.4" cy="59.9" r="2.55" fill="#542680"/>
<circle cx="814.7" cy="122.0" r="2.55" fill="#542680"/>
<circle cx="814.2" cy="174.7" r="2.55" fill="#93246f"/>
<circle cx="827.8" cy="241.1" r="2.55" fill="#80207a"/>
<circle cx="761.7" cy="211.8" r="2.55" fill="#542680"/>
<circle cx="860.3" cy="290.3" r="2.55" fill="#542680"/>
<circle cx="787.7" cy="40.4" r="2.55" fill="#542680"/>
<circle cx="811.9" cy="104.6" r="2.55" fill="#542680"/>
<circle cx="895.0" cy="87.1" r="2.55" fill="#542680"/>
<circle cx="811.8" cy="141.2" r="2.55" fill="#542680"/>
<circle cx="808.3" cy="264.2" r="2.55" fill="#542680"/>
<circle cx="829.9" cy="336.8" r="2.55" fill="#5e2783"/>
<circle cx="813.8" cy="178.2" r="2.55" fill="#80207a"/>
<circle cx="822.7" cy="325.2" r="2.55" fill="#93246f"/>
<circle cx="864.8" cy="297.6" r="2.55" fill="#542680"/>
<circle cx="861.7" cy="49.2" r="2.55" fill="#fbb530"/>
<circle cx="808.5" cy="135.3" r="2.55" fill="#542680"/>
<circle cx="810.3" cy="210.7" r="2.55" fill="#542680"/>
<circle cx="808.4" cy="248.7" r="2.55" fill="#542680"/>
<circle cx="837.6" cy="249.7" r="2.55" fill="#80207a"/>
<circle cx="867.2" cy="126.1" r="2.55" fill="#d6514b"/>
<circle cx="775.5" cy="170.4" r="2.55" fill="#80207a"/>
<circle cx="804.9" cy="48.6" r="2.55" fill="#542680"/>
<circle cx="811.9" cy="295.4" r="2.55" fill="#542680"/>
<circle cx="984.8" cy="48.8" r="2.55" fill="#f9ad2c"/>
<circle cx="801.2" cy="34.6" r="2.55" fill="#542680"/>
<circle cx="845.8" cy="213.9" r="2.55" fill="#f9ad2c"/>
<circle cx="831.8" cy="297.3" r="2.55" fill="#c53f52"/>
<circle cx="805.2" cy="223.8" r="2.55" fill="#542680"/>
<circle cx="829.8" cy="289.2" r="2.55" fill="#542680"/>
<circle cx="811.9" cy="167.1" r="2.55" fill="#80207a"/>
<circle cx="878.6" cy="49.3" r="2.55" fill="#fbb530"/>
<circle cx="791.3" cy="335.2" r="2.55" fill="#80207a"/>
<circle cx="799.1" cy="120.4" r="2.55" fill="#542680"/>
<circle cx="854.6" cy="214.5" r="2.55" fill="#fbb530"/>
<circle cx="840.7" cy="168.9" r="2.55" fill="#c53f52"/>
<circle cx="961.1" cy="49.5" r="2.55" fill="#fbb530"/>
<circle cx="815.9" cy="96.9" r="2.55" fill="#542680"/>
<circle cx="812.7" cy="93.2" r="2.55" fill="#542680"/>
<circle cx="817.6" cy="288.9" r="2.55" fill="#542680"/>
<circle cx="810.3" cy="92.3" r="2.55" fill="#542680"/>
<circle cx="828.0" cy="254.8" r="2.55" fill="#542680"/>
<circle cx="807.8" cy="123.9" r="2.55" fill="#542680"/>
<circle cx="817.8" cy="243.9" r="2.55" fill="#5e2783"/>
<circle cx="812.9" cy="85.4" r="2.55" fill="#542680"/>
<circle cx="801.1" cy="336.1" r="2.55" fill="#93246f"/>
<circle cx="823.5" cy="325.1" r="2.55" fill="#80207a"/>
<circle cx="862.3" cy="335.2" r="2.55" fill="#93246f"/>
<circle cx="951.5" cy="129.0" r="2.55" fill="#c53f52"/>
<circle cx="823.9" cy="330.9" r="2.55" fill="#80207a"/>
<circle cx="830.9" cy="183.4" r="2.55" fill="#542680"/>
<circle cx="741.9" cy="253.7" r="2.55" fill="#542680"/>
<circle cx="831.0" cy="334.5" r="2.55" fill="#5e2783"/>
<circle cx="800.3" cy="210.4" r="2.55" fill="#542680"/>
<circle cx="815.5" cy="166.5" r="2.55" fill="#542680"/>
<circle cx="861.5" cy="295.6" r="2.55" fill="#542680"/>
<circle cx="798.3" cy="117.8" r="2.55" fill="#542680"/>
<circle cx="852.1" cy="88.3" r="2.55" fill="#542680"/>
<circle cx="799.4" cy="59.6" r="2.55" fill="#542680"/>
<circle cx="746.6" cy="48.0" r="2.55" fill="#542680"/>
<circle cx="956.7" cy="46.9" r="2.55" fill="#fbb530"/>
<circle cx="794.3" cy="39.3" r="2.55" fill="#542680"/>
<circle cx="757.3" cy="171.3" r="2.55" fill="#80207a"/>
<circle cx="820.2" cy="181.0" r="2.55" fill="#80207a"/>
<circle cx="808.3" cy="44.5" r="2.55" fill="#542680"/>
<circle cx="786.7" cy="47.2" r="2.55" fill="#542680"/>
<circle cx="869.6" cy="127.0" r="2.55" fill="#c53f52"/>
<circle cx="823.0" cy="91.3" r="2.55" fill="#542680"/>
<circle cx="826.3" cy="249.4" r="2.55" fill="#542680"/>
<circle cx="937.9" cy="47.2" r="2.55" fill="#f9ad2c"/>
<circle cx="827.1" cy="211.3" r="2.55" fill="#fbb530"/>
<circle cx="876.0" cy="46.9" r="2.55" fill="#fbb530"/>
<circle cx="819.7" cy="335.1" r="2.55" fill="#80207a"/>
<circle cx="805.9" cy="257.4" r="2.55" fill="#542680"/>
<circle cx="974.5" cy="46.6" r="2.55" fill="#f9ad2c"/>
<circle cx="814.5" cy="137.2" r="2.55" fill="#542680"/>
<circle cx="858.7" cy="87.6" r="2.55" fill="#80207a"/>
<circle cx="892.1" cy="89.7" r="2.55" fill="#542680"/>
<circle cx="908.3" cy="87.9" r="2.55" fill="#93246f"/>
<circle cx="807.6" cy="145.3" r="2.55" fill="#542680"/>
<circle cx="806.9" cy="97.1" r="2.55" fill="#542680"/>
<circle cx="817.5" cy="77.3" r="2.55" fill="#542680"/>
<circle cx="797.3" cy="39.9" r="2.55" fill="#542680"/>
<circle cx="844.9" cy="258.5" r="2.55" fill="#542680"/>
<circle cx="828.6" cy="169.4" r="2.55" fill="#80207a"/>
<circle cx="803.8" cy="225.1" r="2.55" fill="#542680"/>
<circle cx="905.3" cy="88.8" r="2.55" fill="#c53f52"/>
<circle cx="851.6" cy="250.1" r="2.55" fill="#93246f"/>
<circle cx="800.5" cy="293.1" r="2.55" fill="#542680"/>
<circle cx="783.6" cy="86.9" r="2.55" fill="#542680"/>
<circle cx="831.4" cy="328.7" r="2.55" fill="#80207a"/>
<circle cx="872.0" cy="172.3" r="2.55" fill="#93246f"/>
<circle cx="873.2" cy="170.3" r="2.55" fill="#80207a"/>
<circle cx="826.8" cy="346.7" r="2.55" fill="#5e2783"/>
<circle cx="864.8" cy="88.0" r="2.55" fill="#80207a"/>
<circle cx="829.5" cy="167.8" r="2.55" fill="#80207a"/>
<circle cx="887.8" cy="295.2" r="2.55" fill="#542680"/>
<circle cx="839.5" cy="183.0" r="2.55" fill="#80207a"/>
<circle cx="821.2" cy="170.6" r="2.55" fill="#80207a"/>
<circle cx="995.9" cy="48.3" r="2.55" fill="#fbb530"/>
<circle cx="792.9" cy="44.9" r="2.55" fill="#542680"/>
<circle cx="749.4" cy="47.3" r="2.55" fill="#542680"/>
<circle cx="836.7" cy="182.2" r="2.55" fill="#93246f"/>
<circle cx="830.2" cy="329.6" r="2.55" fill="#80207a"/>
<circle cx="795.8" cy="38.1" r="2.55" fill="#542680"/>
<circle cx="812.8" cy="203.7" r="2.55" fill="#542680"/>
<circle cx="772.3" cy="254.2" r="2.55" fill="#542680"/>
<circle cx="799.6" cy="175.7" r="2.55" fill="#80207a"/>
<circle cx="795.5" cy="56.9" r="2.55" fill="#542680"/>
<circle cx="790.6" cy="294.6" r="2.55" fill="#542680"/>
<circle cx="807.5" cy="181.5" r="2.55" fill="#93246f"/>
<circle cx="825.6" cy="325.4" r="2.55" fill="#5e2783"/>
<circle cx="823.6" cy="164.3" r="2.55" fill="#542680"/>
<circle cx="818.1" cy="83.1" r="2.55" fill="#542680"/>
<circle cx="819.5" cy="302.6" r="2.55" fill="#542680"/>
<circle cx="830.1" cy="345.2" r="2.55" fill="#80207a"/>
<circle cx="898.8" cy="45.9" r="2.55" fill="#f9ad2c"/>
<circle cx="1000.2" cy="48.5" r="2.55" fill="#f9ad2c"/>
<circle cx="750.2" cy="253.3" r="2.55" fill="#542680"/>
<circle cx="819.5" cy="97.8" r="2.55" fill="#542680"/>
<circle cx="796.4" cy="87.4" r="2.55" fill="#542680"/>
<circle cx="807.5" cy="94.4" r="2.55" fill="#542680"/>
<circle cx="842.9" cy="299.6" r="2.55" fill="#80207a"/>
<circle cx="751.5" cy="48.4" r="2.55" fill="#542680"/>
<circle cx="826.2" cy="348.4" r="2.55" fill="#80207a"/>
<circle cx="827.2" cy="160.9" r="2.55" fill="#542680"/>
<circle cx="813.5" cy="91.2" r="2.55" fill="#542680"/>
<circle cx="841.6" cy="335.3" r="2.55" fill="#80207a"/>
<circle cx="809.2" cy="257.8" r="2.55" fill="#542680"/>
<circle cx="847.0" cy="168.9" r="2.55" fill="#80207a"/>
<circle cx="826.7" cy="130.4" r="2.55" fill="#c53f52"/>
<circle cx="820.1" cy="85.7" r="2.55" fill="#542680"/>
<circle cx="801.2" cy="142.9" r="2.55" fill="#542680"/>
<circle cx="853.9" cy="47.8" r="2.55" fill="#fbb530"/>
<circle cx="822.0" cy="249.2" r="2.55" fill="#80207a"/>
<circle cx="811.2" cy="260.2" r="2.55" fill="#542680"/>
<circle cx="832.7" cy="168.2" r="2.55" fill="#542680"/>
<circle cx="805.8" cy="59.2" r="2.55" fill="#542680"/>
<circle cx="836.1" cy="257.3" r="2.55" fill="#542680"/>
<circle cx="913.5" cy="253.2" r="2.55" fill="#80207a"/>
<circle cx="775.6" cy="211.7" r="2.55" fill="#542680"/>
<circle cx="815.8" cy="287.3" r="2.55" fill="#542680"/>
<circle cx="845.5" cy="179.1" r="2.55" fill="#80207a"/>
<circle cx="794.0" cy="169.5" r="2.55" fill="#80207a"/>
<circle cx="806.5" cy="249.4" r="2.55" fill="#5e2783"/>
<circle cx="797.9" cy="47.5" r="2.55" fill="#542680"/>
<circle cx="806.2" cy="79.4" r="2.55" fill="#542680"/>
<circle cx="822.9" cy="333.0" r="2.55" fill="#80207a"/>
<circle cx="826.4" cy="170.2" r="2.55" fill="#80207a"/>
<circle cx="837.1" cy="88.4" r="2.55" fill="#80207a"/>
<circle cx="842.3" cy="254.5" r="2.55" fill="#c53f52"/>
<circle cx="793.2" cy="59.0" r="2.55" fill="#542680"/>
<circle cx="830.5" cy="245.8" r="2.55" fill="#80207a"/>
<circle cx="939.7" cy="48.2" r="2.55" fill="#fbb530"/>
<circle cx="814.7" cy="126.1" r="2.55" fill="#542680"/>
<circle cx="839.7" cy="159.3" r="2.55" fill="#80207a"/>
<circle cx="856.5" cy="249.2" r="2.55" fill="#80207a"/>
<circle cx="847.6" cy="89.4" r="2.55" fill="#542680"/>
<circle cx="803.4" cy="293.4" r="2.55" fill="#542680"/>
<circle cx="830.1" cy="249.5" r="2.55" fill="#80207a"/>
<circle cx="930.9" cy="211.8" r="2.55" fill="#fbb530"/>
<circle cx="863.7" cy="253.8" r="2.55" fill="#93246f"/>
<circle cx="804.7" cy="123.0" r="2.55" fill="#542680"/>
<circle cx="811.9" cy="246.0" r="2.55" fill="#5e2783"/>
<circle cx="822.4" cy="171.5" r="2.55" fill="#80207a"/>
<circle cx="839.5" cy="253.6" r="2.55" fill="#80207a"/>
<circle cx="871.1" cy="87.8" r="2.55" fill="#542680"/>
<circle cx="866.8" cy="212.9" r="2.55" fill="#f9ad2c"/>
<circle cx="818.2" cy="285.3" r="2.55" fill="#5e2783"/>
<circle cx="832.9" cy="264.0" r="2.55" fill="#542680"/>
<circle cx="813.0" cy="264.7" r="2.55" fill="#5e2783"/>
<circle cx="842.6" cy="175.6" r="2.55" fill="#80207a"/>
<circle cx="812.4" cy="301.6" r="2.55" fill="#542680"/>
<circle cx="793.4" cy="335.7" r="2.55" fill="#80207a"/>
<circle cx="826.4" cy="88.4" r="2.55" fill="#542680"/>
<circle cx="782.5" cy="212.3" r="2.55" fill="#542680"/>
<circle cx="815.1" cy="211.9" r="2.55" fill="#542680"/>
<circle cx="847.7" cy="297.5" r="2.55" fill="#542680"/>
<circle cx="810.2" cy="225.8" r="2.55" fill="#542680"/>
<circle cx="913.1" cy="211.5" r="2.55" fill="#f9ad2c"/>
<circle cx="837.7" cy="180.2" r="2.55" fill="#542680"/>
<circle cx="821.1" cy="83.3" r="2.55" fill="#5e2783"/>
<circle cx="866.8" cy="298.8" r="2.55" fill="#e8642e"/>
<circle cx="822.4" cy="281.1" r="2.55" fill="#542680"/>
<circle cx="803.3" cy="96.2" r="2.55" fill="#542680"/>
<circle cx="801.4" cy="116.3" r="2.55" fill="#542680"/>
<circle cx="808.6" cy="127.7" r="2.55" fill="#542680"/>
<circle cx="831.3" cy="267.6" r="2.55" fill="#542680"/>
<circle cx="917.3" cy="252.3" r="2.55" fill="#542680"/>
<circle cx="812.7" cy="185.8" r="2.55" fill="#80207a"/>
<circle cx="830.9" cy="338.5" r="2.55" fill="#80207a"/>
<circle cx="810.1" cy="137.2" r="2.55" fill="#542680"/>
<circle cx="791.0" cy="91.2" r="2.55" fill="#5e2783"/>
<circle cx="841.7" cy="130.7" r="2.55" fill="#d6514b"/>
<circle cx="849.5" cy="167.2" r="2.55" fill="#80207a"/>
<circle cx="809.1" cy="177.0" r="2.55" fill="#80207a"/>
<circle cx="735.9" cy="253.0" r="2.55" fill="#542680"/>
<circle cx="821.0" cy="335.5" r="2.55" fill="#5e2783"/>
<circle cx="803.8" cy="121.7" r="2.55" fill="#542680"/>
<circle cx="826.2" cy="293.5" r="2.55" fill="#542680"/>
<circle cx="820.4" cy="305.9" r="2.55" fill="#542680"/>
<circle cx="843.8" cy="249.6" r="2.55" fill="#542680"/>
<circle cx="799.7" cy="252.8" r="2.55" fill="#542680"/>
<circle cx="780.3" cy="89.7" r="2.55" fill="#542680"/>
<circle cx="879.6" cy="295.1" r="2.55" fill="#c53f52"/>
<circle cx="811.4" cy="267.6" r="2.55" fill="#5e2783"/>
<circle cx="823.6" cy="173.9" r="2.55" fill="#542680"/>
<circle cx="884.8" cy="252.3" r="2.55" fill="#542680"/>
<circle cx="794.7" cy="61.4" r="2.55" fill="#542680"/>
<circle cx="811.2" cy="186.1" r="2.55" fill="#80207a"/>
<circle cx="846.5" cy="289.9" r="2.55" fill="#80207a"/>
<circle cx="883.5" cy="254.6" r="2.55" fill="#80207a"/>
<circle cx="826.8" cy="351.1" r="2.55" fill="#80207a"/>
<circle cx="827.3" cy="295.3" r="2.55" fill="#542680"/>
<circle cx="808.6" cy="103.0" r="2.55" fill="#542680"/>
<circle cx="773.7" cy="212.2" r="2.55" fill="#542680"/>
<circle cx="808.4" cy="90.3" r="2.55" fill="#542680"/>
<circle cx="872.0" cy="334.8" r="2.55" fill="#80207a"/>
<circle cx="804.5" cy="178.7" r="2.55" fill="#93246f"/>
<circle cx="871.0" cy="129.2" r="2.55" fill="#c53f52"/>
<circle cx="814.9" cy="103.2" r="2.55" fill="#542680"/>
<circle cx="838.1" cy="292.9" r="2.55" fill="#80207a"/>
<circle cx="853.1" cy="252.2" r="2.55" fill="#542680"/>
<circle cx="815.8" cy="279.8" r="2.55" fill="#542680"/>
<circle cx="796.8" cy="51.3" r="2.55" fill="#542680"/>
<circle cx="819.4" cy="337.2" r="2.55" fill="#93246f"/>
<circle cx="839.4" cy="165.8" r="2.55" fill="#80207a"/>
<circle cx="966.7" cy="49.2" r="2.55" fill="#f9ad2c"/>
<circle cx="811.4" cy="119.3" r="2.55" fill="#542680"/>
<circle cx="814.4" cy="134.1" r="2.55" fill="#542680"/>
<circle cx="826.4" cy="175.7" r="2.55" fill="#542680"/>
<circle cx="844.5" cy="177.0" r="2.55" fill="#c53f52"/>
<circle cx="838.2" cy="247.1" r="2.55" fill="#c53f52"/>
<circle cx="804.9" cy="165.0" r="2.55" fill="#80207a"/>
<circle cx="814.3" cy="80.2" r="2.55" fill="#542680"/>
<circle cx="859.7" cy="129.6" r="2.55" fill="#d6514b"/>
<circle cx="835.3" cy="172.3" r="2.55" fill="#80207a"/>
<circle cx="818.5" cy="292.7" r="2.55" fill="#542680"/>
<circle cx="810.8" cy="122.8" r="2.55" fill="#542680"/>
<circle cx="826.7" cy="319.6" r="2.55" fill="#93246f"/>
<circle cx="854.8" cy="175.4" r="2.55" fill="#542680"/>
<circle cx="793.9" cy="88.0" r="2.55" fill="#542680"/>
<circle cx="748.5" cy="45.9" r="2.55" fill="#542680"/>
<circle cx="813.3" cy="255.4" r="2.55" fill="#542680"/>
<circle cx="886.5" cy="87.9" r="2.55" fill="#80207a"/>
<circle cx="827.7" cy="335.6" r="2.55" fill="#80207a"/>
<circle cx="803.6" cy="253.6" r="2.55" fill="#542680"/>
<circle cx="861.3" cy="127.2" r="2.55" fill="#d6514b"/>
<circle cx="810.9" cy="81.0" r="2.55" fill="#542680"/>
<circle cx="864.8" cy="170.8" r="2.55" fill="#93246f"/>
<circle cx="795.5" cy="41.9" r="2.55" fill="#542680"/>
<circle cx="861.9" cy="256.5" r="2.55" fill="#542680"/>
<circle cx="866.8" cy="289.8" r="2.55" fill="#542680"/>
<circle cx="922.9" cy="253.8" r="2.55" fill="#80207a"/>
<circle cx="828.9" cy="258.3" r="2.55" fill="#542680"/>
<circle cx="829.0" cy="251.3" r="2.55" fill="#80207a"/>
<circle cx="834.6" cy="251.7" r="2.55" fill="#542680"/>
<circle cx="778.8" cy="294.4" r="2.55" fill="#542680"/>
<circle cx="941.3" cy="47.6" r="2.55" fill="#fbb530"/>
<circle cx="845.1" cy="174.6" r="2.55" fill="#c53f52"/>
<circle cx="811.4" cy="219.6" r="2.55" fill="#542680"/>
<circle cx="808.3" cy="166.8" r="2.55" fill="#93246f"/>
<circle cx="811.5" cy="335.8" r="2.55" fill="#80207a"/>
<circle cx="800.4" cy="124.8" r="2.55" fill="#542680"/>
<circle cx="865.7" cy="130.0" r="2.55" fill="#d6514b"/>
<circle cx="814.6" cy="118.0" r="2.55" fill="#542680"/>
<circle cx="801.7" cy="131.0" r="2.55" fill="#542680"/>
<circle cx="917.9" cy="211.9" r="2.55" fill="#f9ad2c"/>
<circle cx="799.9" cy="33.0" r="2.55" fill="#542680"/>
<circle cx="816.2" cy="335.8" r="2.55" fill="#80207a"/>
<circle cx="854.9" cy="255.1" r="2.55" fill="#80207a"/>
<circle cx="824.6" cy="162.7" r="2.55" fill="#c53f52"/>
<circle cx="807.1" cy="293.5" r="2.55" fill="#542680"/>
<circle cx="800.5" cy="38.9" r="2.55" fill="#542680"/>
<circle cx="810.0" cy="217.5" r="2.55" fill="#542680"/>
<circle cx="819.7" cy="89.4" r="2.55" fill="#5e2783"/>
<circle cx="802.9" cy="50.8" r="2.55" fill="#542680"/>
<circle cx="990.4" cy="47.4" r="2.55" fill="#fbb530"/>
<circle cx="823.1" cy="288.4" r="2.55" fill="#5e2783"/>
<circle cx="893.0" cy="88.0" r="2.55" fill="#542680"/>
<circle cx="753.5" cy="172.1" r="2.55" fill="#542680"/>
<circle cx="802.4" cy="45.6" r="2.55" fill="#542680"/>
<circle cx="836.4" cy="251.0" r="2.55" fill="#93246f"/>
<circle cx="764.1" cy="171.6" r="2.55" fill="#93246f"/>
<circle cx="814.1" cy="124.6" r="2.55" fill="#542680"/>
<circle cx="893.3" cy="252.5" r="2.55" fill="#80207a"/>
<circle cx="811.7" cy="73.5" r="2.55" fill="#542680"/>
<circle cx="849.1" cy="88.6" r="2.55" fill="#542680"/>
<circle cx="845.8" cy="162.1" r="2.55" fill="#93246f"/>
<circle cx="798.4" cy="48.2" r="2.55" fill="#542680"/>
<circle cx="808.2" cy="254.3" r="2.55" fill="#80207a"/>
<circle cx="837.1" cy="265.3" r="2.55" fill="#542680"/>
<circle cx="909.9" cy="252.6" r="2.55" fill="#c53f52"/>
<circle cx="804.2" cy="115.0" r="2.55" fill="#542680"/>
<circle cx="827.5" cy="166.6" r="2.55" fill="#542680"/>
<circle cx="893.0" cy="47.9" r="2.55" fill="#f9ad2c"/>
<circle cx="822.6" cy="345.5" r="2.55" fill="#5e2783"/>
<circle cx="836.4" cy="299.5" r="2.55" fill="#542680"/>
<circle cx="998.3" cy="47.8" r="2.55" fill="#fbb530"/>
<circle cx="899.5" cy="253.0" r="2.55" fill="#80207a"/>
<circle cx="810.8" cy="99.9" r="2.55" fill="#542680"/>
<circle cx="819.9" cy="298.9" r="2.55" fill="#542680"/>
<circle cx="859.3" cy="292.7" r="2.55" fill="#542680"/>
<circle cx="753.8" cy="49.1" r="2.55" fill="#542680"/>
<circle cx="835.6" cy="247.8" r="2.55" fill="#93246f"/>
<circle cx="858.6" cy="48.3" r="2.55" fill="#fbb530"/>
<circle cx="866.2" cy="134.0" r="2.55" fill="#c53f52"/>
<circle cx="846.3" cy="295.7" r="2.55" fill="#542680"/>
<circle cx="952.8" cy="48.2" r="2.55" fill="#f9ad2c"/>
<circle cx="878.2" cy="172.5" r="2.55" fill="#80207a"/>
<circle cx="865.8" cy="210.6" r="2.55" fill="#fbb530"/>
<circle cx="786.7" cy="90.6" r="2.55" fill="#542680"/>
<circle cx="825.9" cy="298.8" r="2.55" fill="#542680"/>
<circle cx="830.0" cy="158.9" r="2.55" fill="#542680"/>
<circle cx="841.0" cy="255.8" r="2.55" fill="#93246f"/>
<circle cx="844.5" cy="131.8" r="2.55" fill="#d6514b"/>
<circle cx="832.1" cy="260.7" r="2.55" fill="#542680"/>
<circle cx="835.1" cy="158.5" r="2.55" fill="#542680"/>
<circle cx="861.8" cy="88.3" r="2.55" fill="#80207a"/>
<circle cx="896.4" cy="88.9" r="2.55" fill="#542680"/>
<circle cx="818.5" cy="307.4" r="2.55" fill="#542680"/>
<circle cx="828.4" cy="261.7" r="2.55" fill="#80207a"/>
<circle cx="835.1" cy="241.1" r="2.55" fill="#93246f"/>
<circle cx="824.7" cy="255.7" r="2.55" fill="#542680"/>
<circle cx="831.3" cy="341.6" r="2.55" fill="#80207a"/>
<circle cx="988.9" cy="48.0" r="2.55" fill="#fbb530"/>
<circle cx="839.8" cy="288.3" r="2.55" fill="#80207a"/>
<circle cx="847.0" cy="293.6" r="2.55" fill="#542680"/>
<circle cx="868.9" cy="46.6" r="2.55" fill="#f9ad2c"/>
<circle cx="950.1" cy="131.2" r="2.55" fill="#fbb530"/>
<circle cx="814.1" cy="143.2" r="2.55" fill="#542680"/>
<circle cx="788.5" cy="38.7" r="2.55" fill="#542680"/>
<circle cx="823.9" cy="344.0" r="2.55" fill="#5e2783"/>
<circle cx="844.2" cy="167.5" r="2.55" fill="#93246f"/>
<circle cx="857.7" cy="253.3" r="2.55" fill="#542680"/>
<circle cx="786.9" cy="54.1" r="2.55" fill="#542680"/>
<circle cx="856.3" cy="257.2" r="2.55" fill="#93246f"/>
<circle cx="901.8" cy="87.6" r="2.55" fill="#93246f"/>
<circle cx="825.5" cy="263.5" r="2.55" fill="#80207a"/>
<circle cx="789.7" cy="211.8" r="2.55" fill="#542680"/>
<circle cx="780.3" cy="211.9" r="2.55" fill="#542680"/>
<circle cx="830.3" cy="263.8" r="2.55" fill="#93246f"/>
<circle cx="789.7" cy="88.7" r="2.55" fill="#5e2783"/>
<circle cx="800.8" cy="115.5" r="2.55" fill="#542680"/>
<circle cx="795.1" cy="90.4" r="2.55" fill="#542680"/>
<circle cx="836.4" cy="289.1" r="2.55" fill="#542680"/>
<circle cx="854.3" cy="251.2" r="2.55" fill="#80207a"/>
<circle cx="814.6" cy="286.8" r="2.55" fill="#542680"/>
<circle cx="815.1" cy="160.0" r="2.55" fill="#542680"/>
<circle cx="839.4" cy="131.2" r="2.55" fill="#d6514b"/>
<circle cx="810.0" cy="241.8" r="2.55" fill="#5e2783"/>
<circle cx="802.1" cy="52.6" r="2.55" fill="#542680"/>
<circle cx="768.7" cy="212.1" r="2.55" fill="#542680"/>
<circle cx="798.2" cy="117.8" r="2.55" fill="#542680"/>
<circle cx="860.0" cy="250.2" r="2.55" fill="#542680"/>
<circle cx="842.8" cy="250.8" r="2.55" fill="#80207a"/>
<circle cx="836.8" cy="160.7" r="2.55" fill="#542680"/>
<circle cx="827.1" cy="334.9" r="2.55" fill="#80207a"/>
<circle cx="786.6" cy="41.9" r="2.55" fill="#542680"/>
<circle cx="813.4" cy="142.1" r="2.55" fill="#542680"/>
<circle cx="805.2" cy="182.6" r="2.55" fill="#80207a"/>
<circle cx="897.5" cy="92.1" r="2.55" fill="#542680"/>
<circle cx="812.5" cy="201.1" r="2.55" fill="#542680"/>
<circle cx="886.9" cy="50.7" r="2.55" fill="#fbb530"/>
<circle cx="799.2" cy="52.0" r="2.55" fill="#542680"/>
<circle cx="838.6" cy="252.7" r="2.55" fill="#80207a"/>
<circle cx="809.3" cy="207.2" r="2.55" fill="#542680"/>
<circle cx="862.8" cy="212.5" r="2.55" fill="#f9ad2c"/>
<circle cx="862.7" cy="249.6" r="2.55" fill="#c53f52"/>
<circle cx="809.1" cy="133.4" r="2.55" fill="#542680"/>
<circle cx="798.9" cy="295.3" r="2.55" fill="#542680"/>
<circle cx="838.8" cy="298.7" r="2.55" fill="#542680"/>
<circle cx="866.7" cy="293.9" r="2.55" fill="#c53f52"/>
<circle cx="791.8" cy="48.4" r="2.55" fill="#542680"/>
<circle cx="838.5" cy="170.7" r="2.55" fill="#80207a"/>
<circle cx="812.9" cy="121.7" r="2.55" fill="#542680"/>
<circle cx="792.3" cy="212.3" r="2.55" fill="#542680"/>
<circle cx="801.4" cy="213.8" r="2.55" fill="#542680"/>
<circle cx="828.2" cy="328.9" r="2.55" fill="#80207a"/>
<circle cx="869.2" cy="171.5" r="2.55" fill="#80207a"/>
<circle cx="879.5" cy="47.7" r="2.55" fill="#fbb530"/>
<circle cx="821.9" cy="293.7" r="2.55" fill="#542680"/>
<circle cx="779.3" cy="87.2" r="2.55" fill="#542680"/>
<circle cx="915.2" cy="88.3" r="2.55" fill="#c53f52"/>
<circle cx="796.9" cy="43.7" r="2.55" fill="#542680"/>
<circle cx="739.9" cy="252.6" r="2.55" fill="#542680"/>
<circle cx="811.6" cy="303.9" r="2.55" fill="#542680"/>
<circle cx="814.0" cy="262.7" r="2.55" fill="#5e2783"/>
<circle cx="919.2" cy="253.4" r="2.55" fill="#80207a"/>
<circle cx="873.6" cy="296.4" r="2.55" fill="#80207a"/>
<circle cx="801.8" cy="95.4" r="2.55" fill="#542680"/>
<circle cx="783.9" cy="171.2" r="2.55" fill="#542680"/>
<circle cx="809.4" cy="251.1" r="2.55" fill="#5e2783"/>
<circle cx="830.6" cy="238.8" r="2.55" fill="#80207a"/>
<circle cx="816.8" cy="181.3" r="2.55" fill="#93246f"/>
<circle cx="880.8" cy="253.7" r="2.55" fill="#80207a"/>
<circle cx="831.8" cy="130.9" r="2.55" fill="#d6514b"/>
<circle cx="880.1" cy="50.9" r="2.55" fill="#fbb530"/>
<circle cx="777.3" cy="171.8" r="2.55" fill="#80207a"/>
<circle cx="839.8" cy="300.3" r="2.55" fill="#542680"/>
<circle cx="829.1" cy="293.2" r="2.55" fill="#542680"/>
<circle cx="816.2" cy="93.4" r="2.55" fill="#542680"/>
<circle cx="896.8" cy="46.6" r="2.55" fill="#fbb530"/>
<circle cx="802.8" cy="179.9" r="2.55" fill="#80207a"/>
<circle cx="969.8" cy="48.7" r="2.55" fill="#f9ad2c"/>
<circle cx="786.8" cy="48.0" r="2.55" fill="#542680"/>
<circle cx="820.9" cy="84.9" r="2.55" fill="#542680"/>
<circle cx="851.6" cy="335.0" r="2.55" fill="#93246f"/>
<circle cx="809.6" cy="125.9" r="2.55" fill="#542680"/>
<circle cx="832.4" cy="174.7" r="2.55" fill="#93246f"/>
<circle cx="848.8" cy="250.6" r="2.55" fill="#542680"/>
<circle cx="842.3" cy="293.7" r="2.55" fill="#542680"/>
<circle cx="896.4" cy="252.2" r="2.55" fill="#542680"/>
<circle cx="831.8" cy="88.9" r="2.55" fill="#80207a"/>
<circle cx="935.7" cy="212.1" r="2.55" fill="#fbb530"/>
<circle cx="809.4" cy="301.3" r="2.55" fill="#542680"/>
<circle cx="810.7" cy="161.7" r="2.55" fill="#80207a"/>
<circle cx="806.5" cy="77.5" r="2.55" fill="#542680"/>
<circle cx="840.8" cy="298.0" r="2.55" fill="#542680"/>
<circle cx="851.6" cy="210.4" r="2.55" fill="#fbb530"/>
<circle cx="886.2" cy="47.5" r="2.55" fill="#fbb530"/>
<circle cx="899.8" cy="212.0" r="2.55" fill="#fbb530"/>
<circle cx="866.4" cy="335.5" r="2.55" fill="#80207a"/>
<circle cx="811.4" cy="103.9" r="2.55" fill="#542680"/>
<circle cx="813.4" cy="209.4" r="2.55" fill="#542680"/>
<circle cx="822.5" cy="167.0" r="2.55" fill="#80207a"/>
<circle cx="805.9" cy="292.2" r="2.55" fill="#542680"/>
<circle cx="845.6" cy="48.1" r="2.55" fill="#f9ad2c"/>
<circle cx="811.9" cy="253.5" r="2.55" fill="#542680"/>
<circle cx="797.5" cy="55.2" r="2.55" fill="#542680"/>
<circle cx="835.5" cy="128.2" r="2.55" fill="#d6514b"/>
<circle cx="863.3" cy="257.3" r="2.55" fill="#c53f52"/>
<circle cx="810.5" cy="289.2" r="2.55" fill="#542680"/>
<circle cx="948.5" cy="129.8" r="2.55" fill="#d6514b"/>
<circle cx="865.3" cy="47.8" r="2.55" fill="#fbb530"/>
<circle cx="804.7" cy="94.0" r="2.55" fill="#5e2783"/>
<circle cx="971.1" cy="48.0" r="2.55" fill="#f9ad2c"/>
<circle cx="819.3" cy="163.0" r="2.55" fill="#542680"/>
<circle cx="826.5" cy="182.3" r="2.55" fill="#542680"/>
<circle cx="813.5" cy="164.2" r="2.55" fill="#80207a"/>
<circle cx="857.3" cy="211.0" r="2.55" fill="#fbb530"/>
<circle cx="825.4" cy="89.4" r="2.55" fill="#542680"/>
<circle cx="848.7" cy="48.7" r="2.55" fill="#f9ad2c"/>
<circle cx="837.4" cy="295.7" r="2.55" fill="#542680"/>
<circle cx="824.0" cy="257.1" r="2.55" fill="#e8642e"/>
<circle cx="867.7" cy="169.7" r="2.55" fill="#80207a"/>
<circle cx="897.7" cy="293.7" r="2.55" fill="#542680"/>
<circle cx="808.8" cy="199.9" r="2.55" fill="#542680"/>
<circle cx="798.5" cy="172.8" r="2.55" fill="#93246f"/>
<circle cx="811.0" cy="169.1" r="2.55" fill="#80207a"/>
<circle cx="875.9" cy="253.9" r="2.55" fill="#93246f"/>
<circle cx="809.7" cy="158.5" r="2.55" fill="#80207a"/>
<circle cx="875.9" cy="90.0" r="2.55" fill="#80207a"/>
<circle cx="810.4" cy="84.9" r="2.55" fill="#542680"/>
<circle cx="828.9" cy="344.5" r="2.55" fill="#5e2783"/>
<circle cx="795.4" cy="254.1" r="2.55" fill="#542680"/>
<circle cx="824.0" cy="291.8" r="2.55" fill="#542680"/>
<circle cx="830.4" cy="129.0" r="2.55" fill="#d6514b"/>
<circle cx="868.7" cy="255.5" r="2.55" fill="#80207a"/>
<circle cx="794.2" cy="57.6" r="2.55" fill="#542680"/>
<circle cx="800.9" cy="144.7" r="2.55" fill="#542680"/>
<circle cx="846.2" cy="334.6" r="2.55" fill="#80207a"/>
<circle cx="828.1" cy="288.7" r="2.55" fill="#5e2783"/>
<circle cx="850.5" cy="293.5" r="2.55" fill="#c53f52"/>
<circle cx="826.5" cy="330.9" r="2.55" fill="#5e2783"/>
<circle cx="836.1" cy="175.7" r="2.55" fill="#542680"/>
<circle cx="856.6" cy="212.7" r="2.55" fill="#fbb530"/>
<circle cx="847.0" cy="177.6" r="2.55" fill="#542680"/>
<circle cx="787.8" cy="48.5" r="2.55" fill="#542680"/>
<circle cx="868.2" cy="290.5" r="2.55" fill="#542680"/>
<circle cx="763.6" cy="48.0" r="2.55" fill="#542680"/>
<circle cx="766.4" cy="48.0" r="2.55" fill="#542680"/>
<circle cx="768.9" cy="48.0" r="2.55" fill="#542680"/>
<circle cx="772.6" cy="48.0" r="2.55" fill="#542680"/>
<circle cx="779.6" cy="48.0" r="2.55" fill="#542680"/>
<circle cx="766.0" cy="49.6" r="2.55" fill="#542680"/>
<circle cx="916.0" cy="48.0" r="2.55" fill="#fbb530"/>
<circle cx="927.0" cy="48.0" r="2.55" fill="#fbb530"/>
<circle cx="750.2" cy="89.0" r="2.55" fill="#542680"/>
<circle cx="762.9" cy="89.0" r="2.55" fill="#542680"/>
<circle cx="768.8" cy="89.0" r="2.55" fill="#542680"/>
<circle cx="772.4" cy="89.0" r="2.55" fill="#542680"/>
<circle cx="953.6" cy="89.0" r="2.55" fill="#c53f52"/>
<circle cx="958.2" cy="89.0" r="2.55" fill="#c53f52"/>
<circle cx="962.4" cy="89.0" r="2.55" fill="#80207a"/>
<circle cx="965.0" cy="89.0" r="2.55" fill="#542680"/>
<circle cx="976.4" cy="89.0" r="2.55" fill="#80207a"/>
<circle cx="980.6" cy="89.0" r="2.55" fill="#d6514b"/>
<circle cx="993.0" cy="89.0" r="2.55" fill="#80207a"/>
<circle cx="1006.0" cy="89.0" r="2.55" fill="#f48a28"/>
<circle cx="1011.6" cy="89.0" r="2.55" fill="#93246f"/>
<circle cx="1017.3" cy="89.0" r="2.55" fill="#93246f"/>
<circle cx="1027.0" cy="89.0" r="2.55" fill="#fbb530"/>
<circle cx="1032.8" cy="89.0" r="2.55" fill="#80207a"/>
<circle cx="760.2" cy="130.1" r="2.55" fill="#542680"/>
<circle cx="762.8" cy="130.1" r="2.55" fill="#542680"/>
<circle cx="767.2" cy="130.1" r="2.55" fill="#542680"/>
<circle cx="770.0" cy="130.1" r="2.55" fill="#542680"/>
<circle cx="773.4" cy="130.1" r="2.55" fill="#542680"/>
<circle cx="777.6" cy="130.1" r="2.55" fill="#542680"/>
<circle cx="780.8" cy="130.1" r="2.55" fill="#542680"/>
<circle cx="785.6" cy="130.1" r="2.55" fill="#542680"/>
<circle cx="789.0" cy="130.1" r="2.55" fill="#542680"/>
<circle cx="900.4" cy="130.1" r="2.55" fill="#fbb530"/>
<circle cx="909.8" cy="130.1" r="2.55" fill="#d6514b"/>
<circle cx="672.9" cy="171.1" r="2.55" fill="#80207a"/>
<circle cx="676.4" cy="171.1" r="2.55" fill="#80207a"/>
<circle cx="686.9" cy="171.1" r="2.55" fill="#80207a"/>
<circle cx="702.9" cy="171.1" r="2.55" fill="#80207a"/>
<circle cx="728.7" cy="171.1" r="2.55" fill="#80207a"/>
<circle cx="734.7" cy="171.1" r="2.55" fill="#80207a"/>
<circle cx="737.6" cy="171.1" r="2.55" fill="#80207a"/>
<circle cx="740.6" cy="171.1" r="2.55" fill="#80207a"/>
<circle cx="893.3" cy="171.1" r="2.55" fill="#542680"/>
<circle cx="897.6" cy="171.1" r="2.55" fill="#542680"/>
<circle cx="911.0" cy="171.1" r="2.55" fill="#c53f52"/>
<circle cx="913.6" cy="171.1" r="2.55" fill="#93246f"/>
<circle cx="918.8" cy="171.1" r="2.55" fill="#93246f"/>
<circle cx="931.0" cy="171.1" r="2.55" fill="#93246f"/>
<circle cx="945.8" cy="171.1" r="2.55" fill="#93246f"/>
<circle cx="949.8" cy="171.1" r="2.55" fill="#c53f52"/>
<circle cx="960.0" cy="171.1" r="2.55" fill="#93246f"/>
<circle cx="827.8" cy="211.7" r="2.55" fill="#542680"/>
<circle cx="889.8" cy="212.2" r="2.55" fill="#fbb530"/>
<circle cx="925.3" cy="253.2" r="2.55" fill="#f48a28"/>
<circle cx="944.2" cy="253.2" r="2.55" fill="#80207a"/>
<circle cx="689.1" cy="294.3" r="2.55" fill="#542680"/>
<circle cx="742.6" cy="294.3" r="2.55" fill="#542680"/>
<circle cx="746.6" cy="294.3" r="2.55" fill="#542680"/>
<circle cx="755.0" cy="294.3" r="2.55" fill="#542680"/>
<circle cx="757.8" cy="294.3" r="2.55" fill="#542680"/>
<circle cx="762.0" cy="294.3" r="2.55" fill="#542680"/>
<circle cx="768.0" cy="294.3" r="2.55" fill="#542680"/>
<circle cx="865.5" cy="298.8" r="2.55" fill="#fbb530"/>
<circle cx="919.3" cy="294.3" r="2.55" fill="#542680"/>
<circle cx="939.5" cy="294.3" r="2.55" fill="#542680"/>
<circle cx="971.6" cy="294.3" r="2.55" fill="#542680"/>
<circle cx="975.0" cy="294.3" r="2.55" fill="#542680"/>
<circle cx="705.1" cy="335.3" r="2.55" fill="#80207a"/>
<circle cx="710.6" cy="335.3" r="2.55" fill="#80207a"/>
<circle cx="748.9" cy="335.3" r="2.55" fill="#80207a"/>
<circle cx="757.0" cy="335.3" r="2.55" fill="#80207a"/>
<circle cx="768.6" cy="335.3" r="2.55" fill="#80207a"/>
<circle cx="771.6" cy="335.3" r="2.55" fill="#80207a"/>
<circle cx="890.3" cy="335.3" r="2.55" fill="#80207a"/>
<circle cx="923.1" cy="335.3" r="2.55" fill="#80207a"/>
<circle cx="927.8" cy="335.3" r="2.55" fill="#80207a"/>
<circle cx="932.3" cy="335.3" r="2.55" fill="#80207a"/>
<circle cx="953.6" cy="335.3" r="2.55" fill="#80207a"/>
<rect x="655.0" y="23.9" width="395.79999999999995" height="335.40000000000003" fill="none" stroke="#4a4a4a" stroke-width="1.3"/>
<line x1="651.50" y1="48.00" x2="655.00" y2="48.00" stroke="#4a4a4a" stroke-width="1.1" />
<text x="651.30" y="52.00" font-size="13.2" fill="#4D4D4D" text-anchor="end" >Hunthess</text>
<line x1="651.50" y1="89.05" x2="655.00" y2="89.05" stroke="#4a4a4a" stroke-width="1.1" />
<text x="651.30" y="93.05" font-size="13.2" fill="#4D4D4D" text-anchor="end" >Procalcitonin</text>
<line x1="651.50" y1="130.10" x2="655.00" y2="130.10" stroke="#4a4a4a" stroke-width="1.1" />
<text x="651.30" y="134.10" font-size="13.2" fill="#4D4D4D" text-anchor="end" >GCS</text>
<line x1="651.50" y1="171.15" x2="655.00" y2="171.15" stroke="#4a4a4a" stroke-width="1.1" />
<text x="651.30" y="175.15" font-size="13.2" fill="#4D4D4D" text-anchor="end" >PNI</text>
<line x1="651.50" y1="212.20" x2="655.00" y2="212.20" stroke="#4a4a4a" stroke-width="1.1" />
<text x="651.30" y="216.20" font-size="13.2" fill="#4D4D4D" text-anchor="end" >Modifiedfisher</text>
<line x1="651.50" y1="253.25" x2="655.00" y2="253.25" stroke="#4a4a4a" stroke-width="1.1" />
<text x="651.30" y="257.25" font-size="13.2" fill="#4D4D4D" text-anchor="end" >NLPR</text>
<line x1="651.50" y1="294.30" x2="655.00" y2="294.30" stroke="#4a4a4a" stroke-width="1.1" />
<text x="651.30" y="298.30" font-size="13.2" fill="#4D4D4D" text-anchor="end" >CLR</text>
<line x1="651.50" y1="335.35" x2="655.00" y2="335.35" stroke="#4a4a4a" stroke-width="1.1" />
<text x="651.30" y="339.35" font-size="13.2" fill="#4D4D4D" text-anchor="end" >NAR</text>
<line x1="723.35" y1="359.30" x2="723.35" y2="362.30" stroke="#4a4a4a" stroke-width="1.1" />
<text x="725.95" y="372.50" font-size="13.2" fill="#4D4D4D" text-anchor="middle" >−0.25</text>
<line x1="826.60" y1="359.30" x2="826.60" y2="362.30" stroke="#4a4a4a" stroke-width="1.1" />
<text x="826.60" y="372.50" font-size="13.2" fill="#4D4D4D" text-anchor="middle" >0.00</text>
<line x1="929.85" y1="359.30" x2="929.85" y2="362.30" stroke="#4a4a4a" stroke-width="1.1" />
<text x="929.85" y="372.50" font-size="13.2" fill="#4D4D4D" text-anchor="middle" >0.25</text>
<line x1="1033.10" y1="359.30" x2="1033.10" y2="362.30" stroke="#4a4a4a" stroke-width="1.1" />
<text x="1033.10" y="372.50" font-size="13.2" fill="#4D4D4D" text-anchor="middle" >0.50</text>
<text x="852.90" y="386.50" font-size="13.2" fill="#000" text-anchor="middle" >SHAP value</text>
<text x="877.10" y="15.30" font-size="13.2" fill="#000" text-anchor="middle" >NeuralNetwork</text>
<text x="619.80" y="23.30" font-size="27" fill="#000" text-anchor="start" >B</text>
<defs><linearGradient id="cb" x1="0" y1="1" x2="0" y2="0"><stop offset="0.00" stop-color="#4f2079"/><stop offset="0.10" stop-color="#62207b"/><stop offset="0.20" stop-color="#7a217a"/><stop offset="0.30" stop-color="#912570"/><stop offset="0.40" stop-color="#a82d63"/><stop offset="0.50" stop-color="#bf3a56"/><stop offset="0.60" stop-color="#d04949"/><stop offset="0.70" stop-color="#df5a3c"/><stop offset="0.80" stop-color="#ea6d31"/><stop offset="0.90" stop-color="#f38a2b"/><stop offset="1.00" stop-color="#f9ae31"/></linearGradient></defs>
<rect x="1086.3" y="128.3" width="7.3" height="126.8" fill="url(#cb)"/>
<text x="1099.00" y="131.80" font-size="13.2" fill="#000" text-anchor="start" >High</text>
<text x="1099.00" y="259.40" font-size="13.2" fill="#000" text-anchor="start" >Low</text>
<text x="1080.50" y="192.20" font-size="13.2" fill="#000" text-anchor="middle" transform="rotate(-90 1080.5 192.2)">Feature value</text>
<line x1="1280.39" y1="24.10" x2="1280.39" y2="360.20" stroke="#E5E5E5" stroke-width="0.9" />
<line x1="1342.97" y1="24.10" x2="1342.97" y2="360.20" stroke="#E5E5E5" stroke-width="0.9" />
<line x1="1405.55" y1="24.10" x2="1405.55" y2="360.20" stroke="#E5E5E5" stroke-width="0.9" />
<line x1="1468.13" y1="24.10" x2="1468.13" y2="360.20" stroke="#E5E5E5" stroke-width="0.9" />
<line x1="1249.10" y1="24.10" x2="1249.10" y2="360.20" stroke="#E5E5E5" stroke-width="1.2" />
<line x1="1311.68" y1="24.10" x2="1311.68" y2="360.20" stroke="#E5E5E5" stroke-width="1.2" />
<line x1="1374.26" y1="24.10" x2="1374.26" y2="360.20" stroke="#E5E5E5" stroke-width="1.2" />
<line x1="1436.84" y1="24.10" x2="1436.84" y2="360.20" stroke="#E5E5E5" stroke-width="1.2" />
<line x1="1499.42" y1="24.10" x2="1499.42" y2="360.20" stroke="#E5E5E5" stroke-width="1.2" />
<line x1="1243.00" y1="79.00" x2="1529.20" y2="79.00" stroke="#E5E5E5" stroke-width="1.2" />
<line x1="1243.00" y1="111.33" x2="1529.20" y2="111.33" stroke="#E5E5E5" stroke-width="1.2" />
<line x1="1243.00" y1="143.66" x2="1529.20" y2="143.66" stroke="#E5E5E5" stroke-width="1.2" />
<line x1="1243.00" y1="175.99" x2="1529.20" y2="175.99" stroke="#E5E5E5" stroke-width="1.2" />
<line x1="1243.00" y1="208.32" x2="1529.20" y2="208.32" stroke="#E5E5E5" stroke-width="1.2" />
<line x1="1243.00" y1="240.65" x2="1529.20" y2="240.65" stroke="#E5E5E5" stroke-width="1.2" />
<line x1="1243.00" y1="272.98" x2="1529.20" y2="272.98" stroke="#E5E5E5" stroke-width="1.2" />
<line x1="1243.00" y1="305.31" x2="1529.20" y2="305.31" stroke="#E5E5E5" stroke-width="1.2" />
<line x1="1499.70" y1="55.00" x2="1499.70" y2="79.00" stroke="#333" stroke-width="1.1" stroke-dasharray="2.3,1.9"/>
<line x1="1444.20" y1="79.00" x2="1444.20" y2="111.33" stroke="#333" stroke-width="1.1" stroke-dasharray="2.3,1.9"/>
<line x1="1393.40" y1="111.33" x2="1393.40" y2="143.66" stroke="#333" stroke-width="1.1" stroke-dasharray="2.3,1.9"/>
<line x1="1361.80" y1="143.66" x2="1361.80" y2="175.99" stroke="#333" stroke-width="1.1" stroke-dasharray="2.3,1.9"/>
<line x1="1332.30" y1="175.99" x2="1332.30" y2="208.32" stroke="#333" stroke-width="1.1" stroke-dasharray="2.3,1.9"/>
<line x1="1306.75" y1="208.32" x2="1306.75" y2="240.65" stroke="#333" stroke-width="1.1" stroke-dasharray="2.3,1.9"/>
<line x1="1283.50" y1="240.65" x2="1283.50" y2="272.98" stroke="#333" stroke-width="1.1" stroke-dasharray="2.3,1.9"/>
<line x1="1263.90" y1="272.98" x2="1263.90" y2="305.31" stroke="#333" stroke-width="1.1" stroke-dasharray="2.3,1.9"/>
<line x1="1255.30" y1="305.31" x2="1255.30" y2="329.00" stroke="#333" stroke-width="1.1" stroke-dasharray="2.3,1.9"/>
<polygon points="1444.20,69.20 1494.00,69.20 1500.00,79.00 1494.00,88.80 1444.20,88.80" fill="#F6CD47" stroke="#2b2b2b" stroke-width="0.9" stroke-linejoin="round"/>
<polygon points="1393.40,101.53 1438.40,101.53 1444.40,111.33 1438.40,121.13 1393.40,121.13" fill="#F6CD47" stroke="#2b2b2b" stroke-width="0.9" stroke-linejoin="round"/>
<polygon points="1361.80,133.86 1386.30,133.86 1392.30,143.66 1386.30,153.46 1361.80,153.46" fill="#F6CD47" stroke="#2b2b2b" stroke-width="0.9" stroke-linejoin="round"/>
<polygon points="1332.30,166.19 1356.00,166.19 1362.00,175.99 1356.00,185.79 1332.30,185.79" fill="#F6CD47" stroke="#2b2b2b" stroke-width="0.9" stroke-linejoin="round"/>
<polygon points="1306.75,198.52 1326.20,198.52 1332.20,208.32 1326.20,218.12 1306.75,218.12" fill="#F6CD47" stroke="#2b2b2b" stroke-width="0.9" stroke-linejoin="round"/>
<polygon points="1283.50,230.85 1299.60,230.85 1305.60,240.65 1299.60,250.45 1283.50,250.45" fill="#F6CD47" stroke="#2b2b2b" stroke-width="0.9" stroke-linejoin="round"/>
<polygon points="1263.90,263.18 1277.70,263.18 1283.70,272.98 1277.70,282.78 1263.90,282.78" fill="#F6CD47" stroke="#2b2b2b" stroke-width="0.9" stroke-linejoin="round"/>
<polygon points="1255.30,295.51 1257.90,295.51 1263.90,305.31 1257.90,315.11 1255.30,315.11" fill="#F6CD47" stroke="#2b2b2b" stroke-width="0.9" stroke-linejoin="round"/>
<text x="1451.10" y="83.20" font-size="13.2" fill="#111" text-anchor="start" >+0.177</text>
<text x="1398.30" y="115.53" font-size="13.2" fill="#111" text-anchor="start" >+0.161</text>
<text x="1365.40" y="147.86" font-size="13.2" fill="#111" text-anchor="start" >+0.101</text>
<text x="1334.70" y="180.19" font-size="13.2" fill="#111" text-anchor="start" >+0.0946</text>
<text x="1308.80" y="212.52" font-size="13.2" fill="#111" text-anchor="start" >+0.0807</text>
<text x="1285.80" y="244.85" font-size="13.2" fill="#111" text-anchor="start" >+0.074</text>
<rect x="1243.0" y="24.1" width="286.20000000000005" height="336.09999999999997" fill="none" stroke="#4a4a4a" stroke-width="1.3"/>
<line x1="1239.60" y1="79.00" x2="1243.00" y2="79.00" stroke="#4a4a4a" stroke-width="1.1" />
<text x="1238.40" y="83.00" font-size="13.2" fill="#4D4D4D" text-anchor="end" >Procalcitonin = 1.01</text>
<line x1="1239.60" y1="111.33" x2="1243.00" y2="111.33" stroke="#4a4a4a" stroke-width="1.1" />
<text x="1238.40" y="115.33" font-size="13.2" fill="#4D4D4D" text-anchor="end" >Hunthess = 2</text>
<line x1="1239.60" y1="143.66" x2="1243.00" y2="143.66" stroke="#4a4a4a" stroke-width="1.1" />
<text x="1238.40" y="147.66" font-size="13.2" fill="#4D4D4D" text-anchor="end" >GCS = 2</text>
<line x1="1239.60" y1="175.99" x2="1243.00" y2="175.99" stroke="#4a4a4a" stroke-width="1.1" />
<text x="1238.40" y="179.99" font-size="13.2" fill="#4D4D4D" text-anchor="end" >CLR = 30.9</text>
<line x1="1239.60" y1="208.32" x2="1243.00" y2="208.32" stroke="#4a4a4a" stroke-width="1.1" />
<text x="1238.40" y="212.32" font-size="13.2" fill="#4D4D4D" text-anchor="end" >NLPR = 0.21</text>
<line x1="1239.60" y1="240.65" x2="1243.00" y2="240.65" stroke="#4a4a4a" stroke-width="1.1" />
<text x="1238.40" y="244.65" font-size="13.2" fill="#4D4D4D" text-anchor="end" >Modifiedfisher = 2</text>
<line x1="1239.60" y1="272.98" x2="1243.00" y2="272.98" stroke="#4a4a4a" stroke-width="1.1" />
<text x="1238.40" y="276.98" font-size="13.2" fill="#4D4D4D" text-anchor="end" >NAR = 0.27</text>
<line x1="1239.60" y1="305.31" x2="1243.00" y2="305.31" stroke="#4a4a4a" stroke-width="1.1" />
<text x="1238.40" y="309.31" font-size="13.2" fill="#4D4D4D" text-anchor="end" >PNI = 44.8</text>
<text x="1519.50" y="51.60" font-size="13.2" fill="#000" text-anchor="end" >f(x)=1</text>
<text x="1229.00" y="341.20" font-size="13.2" fill="#000" text-anchor="start" >E[f(x)]=0.22</text>
<line x1="1249.10" y1="360.20" x2="1249.10" y2="363.20" stroke="#4a4a4a" stroke-width="1.1" />
<text x="1249.10" y="373.40" font-size="13.2" fill="#4D4D4D" text-anchor="middle" >0.2</text>
<line x1="1311.68" y1="360.20" x2="1311.68" y2="363.20" stroke="#4a4a4a" stroke-width="1.1" />
<text x="1311.68" y="373.40" font-size="13.2" fill="#4D4D4D" text-anchor="middle" >0.4</text>
<line x1="1374.26" y1="360.20" x2="1374.26" y2="363.20" stroke="#4a4a4a" stroke-width="1.1" />
<text x="1374.26" y="373.40" font-size="13.2" fill="#4D4D4D" text-anchor="middle" >0.6</text>
<line x1="1436.84" y1="360.20" x2="1436.84" y2="363.20" stroke="#4a4a4a" stroke-width="1.1" />
<text x="1436.84" y="373.40" font-size="13.2" fill="#4D4D4D" text-anchor="middle" >0.8</text>
<line x1="1499.42" y1="360.20" x2="1499.42" y2="363.20" stroke="#4a4a4a" stroke-width="1.1" />
<text x="1499.42" y="373.40" font-size="13.2" fill="#4D4D4D" text-anchor="middle" >1.0</text>
<text x="1386.10" y="387.30" font-size="13.2" fill="#000" text-anchor="middle" >Prediction</text>
<text x="1381.20" y="15.30" font-size="13.2" fill="#000" text-anchor="middle" >NeuralNetwork</text>
<text x="1203.80" y="23.80" font-size="27" fill="#000" text-anchor="start" >C</text>
<line x1="284.90" y1="420.60" x2="284.90" y2="553.40" stroke="#DCDCDC" stroke-width="0.9" />
<line x1="641.15" y1="420.60" x2="641.15" y2="553.40" stroke="#DCDCDC" stroke-width="0.9" />
<line x1="997.40" y1="420.60" x2="997.40" y2="553.40" stroke="#DCDCDC" stroke-width="0.9" />
<line x1="1353.65" y1="420.60" x2="1353.65" y2="553.40" stroke="#DCDCDC" stroke-width="0.9" />
<line x1="242.50" y1="486.90" x2="242.50" y2="529.00" stroke="#333" stroke-width="1.1" stroke-dasharray="2.8,2.9"/>
<line x1="1353.50" y1="486.90" x2="1353.50" y2="508.00" stroke="#333" stroke-width="1.1" stroke-dasharray="2.8,2.9"/>
<polygon points="242.50,475.50 341.20,475.50 357.20,486.90 341.20,498.30 242.50,498.30" fill="#F6CD47" stroke="#2b2b2b" stroke-width="0.9" stroke-linejoin="round"/>
<polygon points="357.20,475.50 476.20,475.50 492.20,486.90 476.20,498.30 357.20,498.30" fill="#F6CD47" stroke="#2b2b2b" stroke-width="0.9" stroke-linejoin="round"/>
<polygon points="492.20,475.50 619.70,475.50 635.70,486.90 619.70,498.30 492.20,498.30" fill="#F6CD47" stroke="#2b2b2b" stroke-width="0.9" stroke-linejoin="round"/>
<polygon points="635.70,475.50 849.60,475.50 865.60,486.90 849.60,498.30 635.70,498.30" fill="#F6CD47" stroke="#2b2b2b" stroke-width="0.9" stroke-linejoin="round"/>
<polygon points="865.60,475.50 1084.90,475.50 1100.90,486.90 1084.90,498.30 865.60,498.30" fill="#F6CD47" stroke="#2b2b2b" stroke-width="0.9" stroke-linejoin="round"/>
<polygon points="1100.90,475.50 1337.50,475.50 1353.50,486.90 1337.50,498.30 1100.90,498.30" fill="#F6CD47" stroke="#2b2b2b" stroke-width="0.9" stroke-linejoin="round"/>
<text x="222.20" y="458.70" font-size="13.2" fill="#000" text-anchor="start" >NLPR=0.21</text>
<text x="296.25" y="490.50" font-size="13.2" fill="#111" text-anchor="end" >+0.0807</text>
<text x="377.40" y="458.70" font-size="13.2" fill="#000" text-anchor="start" >CLR=30.9</text>
<text x="421.10" y="490.50" font-size="13.2" fill="#111" text-anchor="end" >+0.0946</text>
<text x="520.90" y="458.70" font-size="13.2" fill="#000" text-anchor="start" >GCS=2</text>
<text x="560.35" y="490.50" font-size="13.2" fill="#111" text-anchor="end" >+0.101</text>
<text x="681.40" y="458.70" font-size="13.2" fill="#000" text-anchor="start" >Hunthess=2</text>
<text x="747.05" y="490.50" font-size="13.2" fill="#111" text-anchor="end" >+0.161</text>
<text x="892.20" y="458.70" font-size="13.2" fill="#000" text-anchor="start" >3 other features</text>
<text x="979.65" y="490.50" font-size="13.2" fill="#111" text-anchor="end" >+0.165</text>
<text x="1120.00" y="458.70" font-size="13.2" fill="#000" text-anchor="start" >Procalcitonin=1.01</text>
<text x="1223.60" y="490.50" font-size="13.2" fill="#111" text-anchor="end" >+0.177</text>
<line x1="289.70" y1="461.00" x2="299.70" y2="479.50" stroke="#777" stroke-width="0.8" />
<line x1="435.80" y1="460.60" x2="424.80" y2="479.50" stroke="#777" stroke-width="0.8" />
<line x1="564.00" y1="460.60" x2="564.00" y2="479.50" stroke="#777" stroke-width="0.8" />
<line x1="750.60" y1="460.60" x2="750.60" y2="479.50" stroke="#777" stroke-width="0.8" />
<line x1="983.30" y1="460.60" x2="983.30" y2="479.50" stroke="#777" stroke-width="0.8" />
<line x1="1227.40" y1="460.60" x2="1227.40" y2="479.50" stroke="#777" stroke-width="0.8" />
<text x="241.60" y="540.90" font-size="13.2" fill="#000" text-anchor="end" >E[f(x)]=0.22</text>
<text x="1352.00" y="520.50" font-size="13.2" fill="#000" text-anchor="end" >f(x)=1</text>
<line x1="98.00" y1="553.60" x2="1498.00" y2="553.60" stroke="#333" stroke-width="1.4" />
<line x1="284.90" y1="553.60" x2="284.90" y2="556.60" stroke="#333" stroke-width="1.1" />
<text x="282.30" y="566.70" font-size="13.2" fill="#4D4D4D" text-anchor="end" >0.25</text>
<line x1="641.15" y1="553.60" x2="641.15" y2="556.60" stroke="#333" stroke-width="1.1" />
<text x="638.55" y="566.70" font-size="13.2" fill="#4D4D4D" text-anchor="end" >0.50</text>
<line x1="997.40" y1="553.60" x2="997.40" y2="556.60" stroke="#333" stroke-width="1.1" />
<text x="994.80" y="566.70" font-size="13.2" fill="#4D4D4D" text-anchor="end" >0.75</text>
<line x1="1353.65" y1="553.60" x2="1353.65" y2="556.60" stroke="#333" stroke-width="1.1" />
<text x="1351.05" y="566.70" font-size="13.2" fill="#4D4D4D" text-anchor="end" >1.00</text>
<text x="754.40" y="580.10" font-size="13.2" fill="#000" text-anchor="middle" >Prediction</text>
<text x="781.20" y="415.80" font-size="13.2" fill="#000" text-anchor="middle" >NeuralNetwork</text>
<text x="185.00" y="430.80" font-size="27" fill="#000" text-anchor="start" >D</text>
</svg></body></html>
